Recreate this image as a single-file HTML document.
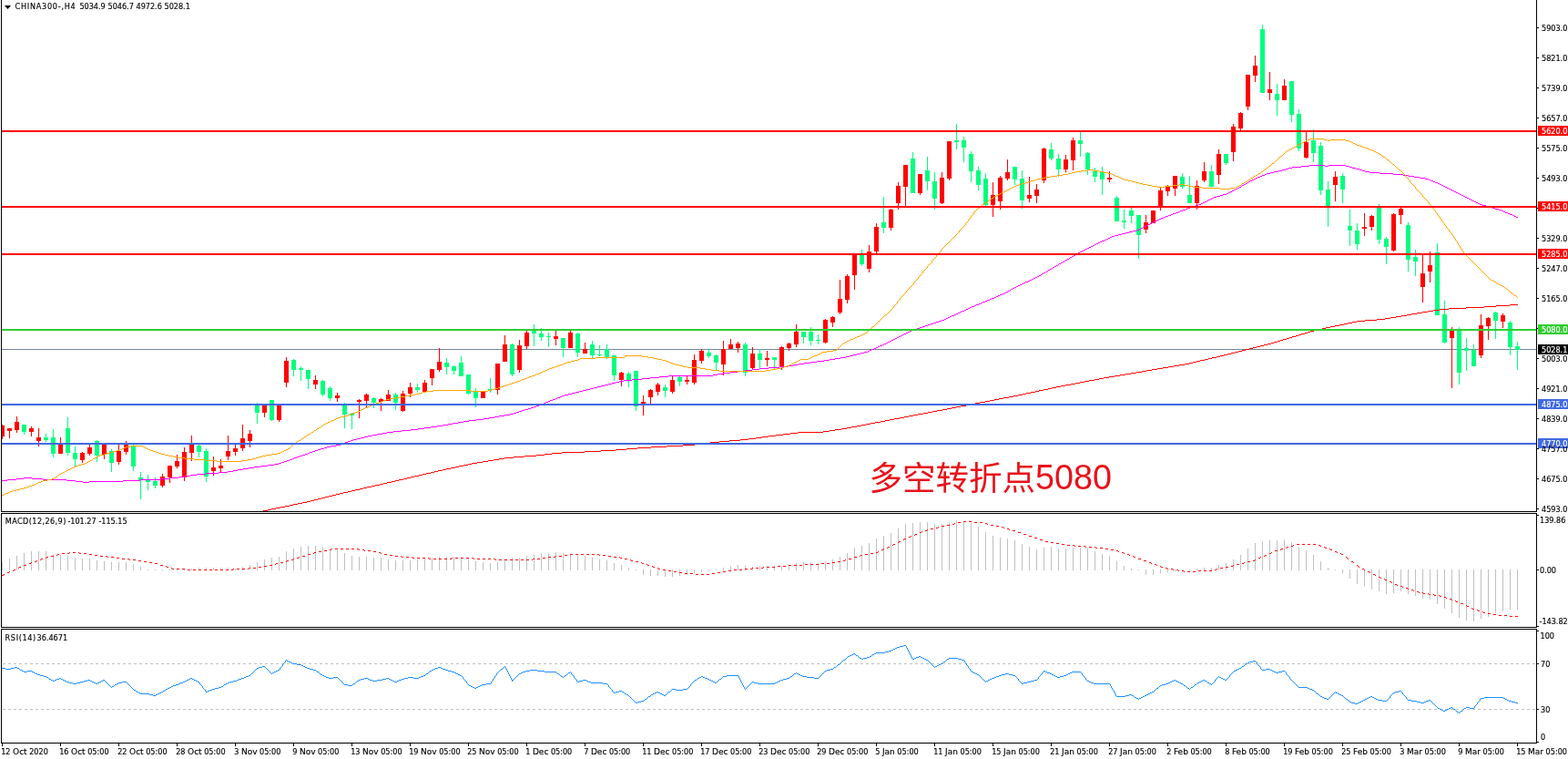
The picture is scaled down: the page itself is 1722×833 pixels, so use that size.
<!DOCTYPE html>
<html><head><meta charset="utf-8"><title>CHINA300 H4</title>
<style>
html,body{margin:0;padding:0;background:#fff;}
body{width:1722px;height:833px;position:relative;overflow:hidden;}
.w{font-family:"DejaVu Sans",sans-serif;}
.t{position:absolute;white-space:pre;font-family:"DejaVu Sans Condensed", "DejaVu Sans", sans-serif;line-height:11px;height:11px;-webkit-text-stroke:0.15px currentColor;}
.cjk{position:absolute;white-space:pre;font-family:"Liberation Sans", "Noto Sans CJK SC", "WenQuanYi Zen Hei", sans-serif;font-size:36.5px;line-height:44px;color:#E8121C;}
.dg{font-family:"Liberation Sans",sans-serif;font-size:39.5px;position:relative;top:-1.5px;display:inline-block;transform:scaleX(0.955);transform-origin:0 50%;}
</style></head><body>
<svg width="1722" height="833" viewBox="0 0 1722 833" style="position:absolute;left:0;top:0"><rect x="0" y="0" width="1722" height="833" fill="#FFFFFF"/><defs><clipPath id="cm"><rect x="2" y="0" width="1685" height="561"/></clipPath><clipPath id="cmacd"><rect x="2" y="564" width="1685" height="124"/></clipPath><clipPath id="crsi"><rect x="2" y="691" width="1685" height="124"/></clipPath></defs><g shape-rendering="crispEdges"><rect x="2" y="383" width="1685" height="1" fill="#778899"/></g><g clip-path="url(#cm)" shape-rendering="crispEdges"><rect x="2" y="466" width="1" height="16" fill="#FF0000"/><rect x="0" y="467" width="5" height="12" fill="#FF0000"/><rect x="10" y="470" width="1" height="11" fill="#FF0000"/><rect x="8" y="470" width="5" height="3" fill="#FF0000"/><rect x="18" y="457" width="1" height="18" fill="#FF0000"/><rect x="16" y="463" width="5" height="9" fill="#FF0000"/><rect x="26" y="466" width="1" height="11" fill="#00FF7F"/><rect x="24" y="466" width="5" height="8" fill="#00FF7F"/><rect x="34" y="468" width="1" height="11" fill="#FF0000"/><rect x="32" y="470" width="5" height="4" fill="#FF0000"/><rect x="42" y="470" width="1" height="20" fill="#FF0000"/><rect x="40" y="480" width="5" height="4" fill="#FF0000"/><rect x="50" y="476" width="1" height="9" fill="#00FF7F"/><rect x="48" y="480" width="5" height="3" fill="#00FF7F"/><rect x="58" y="471" width="1" height="31" fill="#00FF7F"/><rect x="56" y="480" width="5" height="18" fill="#00FF7F"/><rect x="66" y="480" width="1" height="18" fill="#FF0000"/><rect x="64" y="488" width="5" height="10" fill="#FF0000"/><rect x="74" y="458" width="1" height="42" fill="#00FF7F"/><rect x="72" y="470" width="5" height="27" fill="#00FF7F"/><rect x="82" y="490" width="1" height="23" fill="#00FF7F"/><rect x="80" y="497" width="5" height="7" fill="#00FF7F"/><rect x="90" y="496" width="1" height="12" fill="#FF0000"/><rect x="88" y="497" width="5" height="8" fill="#FF0000"/><rect x="98" y="488" width="1" height="12" fill="#FF0000"/><rect x="96" y="491" width="5" height="7" fill="#FF0000"/><rect x="106" y="483" width="1" height="24" fill="#00FF7F"/><rect x="104" y="484" width="5" height="16" fill="#00FF7F"/><rect x="114" y="488" width="1" height="16" fill="#FF0000"/><rect x="112" y="488" width="5" height="11" fill="#FF0000"/><rect x="122" y="493" width="1" height="25" fill="#00FF7F"/><rect x="120" y="495" width="5" height="13" fill="#00FF7F"/><rect x="130" y="488" width="1" height="22" fill="#FF0000"/><rect x="128" y="495" width="5" height="12" fill="#FF0000"/><rect x="138" y="484" width="1" height="15" fill="#FF0000"/><rect x="136" y="488" width="5" height="8" fill="#FF0000"/><rect x="146" y="488" width="1" height="29" fill="#00FF7F"/><rect x="144" y="489" width="5" height="23" fill="#00FF7F"/><rect x="154" y="518" width="1" height="30" fill="#00FF7F"/><rect x="152" y="524" width="5" height="3" fill="#00FF7F"/><rect x="162" y="521" width="1" height="17" fill="#00FF7F"/><rect x="160" y="526" width="5" height="3" fill="#00FF7F"/><rect x="170" y="524" width="1" height="12" fill="#00FF7F"/><rect x="168" y="528" width="5" height="5" fill="#00FF7F"/><rect x="178" y="520" width="1" height="15" fill="#FF0000"/><rect x="176" y="523" width="5" height="10" fill="#FF0000"/><rect x="186" y="511" width="1" height="19" fill="#FF0000"/><rect x="184" y="511" width="5" height="13" fill="#FF0000"/><rect x="194" y="499" width="1" height="15" fill="#FF0000"/><rect x="192" y="506" width="5" height="6" fill="#FF0000"/><rect x="202" y="491" width="1" height="37" fill="#FF0000"/><rect x="200" y="496" width="5" height="28" fill="#FF0000"/><rect x="210" y="478" width="1" height="28" fill="#FF0000"/><rect x="208" y="488" width="5" height="9" fill="#FF0000"/><rect x="218" y="488" width="1" height="14" fill="#00FF7F"/><rect x="216" y="489" width="5" height="7" fill="#00FF7F"/><rect x="226" y="492" width="1" height="37" fill="#00FF7F"/><rect x="224" y="495" width="5" height="28" fill="#00FF7F"/><rect x="234" y="501" width="1" height="21" fill="#FF0000"/><rect x="232" y="513" width="5" height="4" fill="#FF0000"/><rect x="242" y="504" width="1" height="15" fill="#FF0000"/><rect x="240" y="511" width="5" height="3" fill="#FF0000"/><rect x="250" y="478" width="1" height="27" fill="#FF0000"/><rect x="248" y="495" width="5" height="6" fill="#FF0000"/><rect x="258" y="488" width="1" height="12" fill="#FF0000"/><rect x="256" y="492" width="5" height="4" fill="#FF0000"/><rect x="266" y="466" width="1" height="29" fill="#FF0000"/><rect x="264" y="481" width="5" height="11" fill="#FF0000"/><rect x="274" y="472" width="1" height="19" fill="#FF0000"/><rect x="272" y="476" width="5" height="8" fill="#FF0000"/><rect x="282" y="442" width="1" height="23" fill="#00FF7F"/><rect x="280" y="444" width="5" height="9" fill="#00FF7F"/><rect x="290" y="444" width="1" height="14" fill="#FF0000"/><rect x="288" y="444" width="5" height="9" fill="#FF0000"/><rect x="298" y="439" width="1" height="23" fill="#00FF7F"/><rect x="296" y="439" width="5" height="22" fill="#00FF7F"/><rect x="306" y="444" width="1" height="19" fill="#FF0000"/><rect x="304" y="444" width="5" height="17" fill="#FF0000"/><rect x="314" y="392" width="1" height="33" fill="#FF0000"/><rect x="312" y="396" width="5" height="24" fill="#FF0000"/><rect x="322" y="394" width="1" height="19" fill="#00FF7F"/><rect x="320" y="395" width="5" height="11" fill="#00FF7F"/><rect x="330" y="402" width="1" height="16" fill="#00FF7F"/><rect x="328" y="404" width="5" height="2" fill="#00FF7F"/><rect x="338" y="406" width="1" height="21" fill="#00FF7F"/><rect x="336" y="406" width="5" height="10" fill="#00FF7F"/><rect x="346" y="412" width="1" height="15" fill="#FF0000"/><rect x="344" y="417" width="5" height="5" fill="#FF0000"/><rect x="354" y="417" width="1" height="18" fill="#00FF7F"/><rect x="352" y="418" width="5" height="15" fill="#00FF7F"/><rect x="362" y="424" width="1" height="16" fill="#00FF7F"/><rect x="360" y="426" width="5" height="11" fill="#00FF7F"/><rect x="370" y="431" width="1" height="10" fill="#FF0000"/><rect x="368" y="434" width="5" height="3" fill="#FF0000"/><rect x="378" y="442" width="1" height="28" fill="#00FF7F"/><rect x="376" y="443" width="5" height="12" fill="#00FF7F"/><rect x="386" y="453" width="1" height="18" fill="#00FF7F"/><rect x="384" y="454" width="5" height="2" fill="#00FF7F"/><rect x="394" y="438" width="1" height="21" fill="#FF0000"/><rect x="392" y="439" width="5" height="2" fill="#FF0000"/><rect x="402" y="432" width="1" height="15" fill="#FF0000"/><rect x="400" y="433" width="5" height="7" fill="#FF0000"/><rect x="410" y="436" width="1" height="12" fill="#00FF7F"/><rect x="408" y="437" width="5" height="5" fill="#00FF7F"/><rect x="418" y="437" width="1" height="14" fill="#FF0000"/><rect x="416" y="438" width="5" height="3" fill="#FF0000"/><rect x="426" y="428" width="1" height="12" fill="#FF0000"/><rect x="424" y="433" width="5" height="7" fill="#FF0000"/><rect x="434" y="431" width="1" height="19" fill="#00FF7F"/><rect x="432" y="433" width="5" height="9" fill="#00FF7F"/><rect x="442" y="429" width="1" height="23" fill="#FF0000"/><rect x="440" y="432" width="5" height="19" fill="#FF0000"/><rect x="450" y="420" width="1" height="16" fill="#FF0000"/><rect x="448" y="425" width="5" height="7" fill="#FF0000"/><rect x="458" y="421" width="1" height="10" fill="#00FF7F"/><rect x="456" y="425" width="5" height="3" fill="#00FF7F"/><rect x="466" y="417" width="1" height="13" fill="#FF0000"/><rect x="464" y="420" width="5" height="10" fill="#FF0000"/><rect x="474" y="405" width="1" height="18" fill="#FF0000"/><rect x="472" y="405" width="5" height="10" fill="#FF0000"/><rect x="482" y="382" width="1" height="26" fill="#FF0000"/><rect x="480" y="397" width="5" height="9" fill="#FF0000"/><rect x="490" y="393" width="1" height="18" fill="#00FF7F"/><rect x="488" y="398" width="5" height="5" fill="#00FF7F"/><rect x="498" y="401" width="1" height="10" fill="#00FF7F"/><rect x="496" y="402" width="5" height="5" fill="#00FF7F"/><rect x="506" y="391" width="1" height="22" fill="#00FF7F"/><rect x="504" y="398" width="5" height="15" fill="#00FF7F"/><rect x="514" y="411" width="1" height="22" fill="#00FF7F"/><rect x="512" y="411" width="5" height="21" fill="#00FF7F"/><rect x="522" y="426" width="1" height="21" fill="#00FF7F"/><rect x="520" y="430" width="5" height="7" fill="#00FF7F"/><rect x="530" y="429" width="1" height="8" fill="#FF0000"/><rect x="528" y="429" width="5" height="8" fill="#FF0000"/><rect x="538" y="415" width="1" height="16" fill="#00FF7F"/><rect x="536" y="427" width="5" height="1" fill="#00FF7F"/><rect x="546" y="399" width="1" height="34" fill="#FF0000"/><rect x="544" y="399" width="5" height="29" fill="#FF0000"/><rect x="554" y="368" width="1" height="29" fill="#FF0000"/><rect x="552" y="378" width="5" height="19" fill="#FF0000"/><rect x="562" y="377" width="1" height="36" fill="#00FF7F"/><rect x="560" y="378" width="5" height="33" fill="#00FF7F"/><rect x="570" y="373" width="1" height="36" fill="#FF0000"/><rect x="568" y="379" width="5" height="27" fill="#FF0000"/><rect x="578" y="363" width="1" height="20" fill="#FF0000"/><rect x="576" y="365" width="5" height="15" fill="#FF0000"/><rect x="586" y="356" width="1" height="24" fill="#00FF7F"/><rect x="584" y="362" width="5" height="4" fill="#00FF7F"/><rect x="594" y="360" width="1" height="14" fill="#00FF7F"/><rect x="592" y="366" width="5" height="4" fill="#00FF7F"/><rect x="602" y="365" width="1" height="16" fill="#00FF7F"/><rect x="600" y="369" width="5" height="1" fill="#00FF7F"/><rect x="610" y="363" width="1" height="16" fill="#FF0000"/><rect x="608" y="369" width="5" height="3" fill="#FF0000"/><rect x="618" y="371" width="1" height="21" fill="#00FF7F"/><rect x="616" y="371" width="5" height="11" fill="#00FF7F"/><rect x="626" y="363" width="1" height="19" fill="#FF0000"/><rect x="624" y="365" width="5" height="17" fill="#FF0000"/><rect x="634" y="365" width="1" height="27" fill="#00FF7F"/><rect x="632" y="366" width="5" height="21" fill="#00FF7F"/><rect x="642" y="376" width="1" height="12" fill="#FF0000"/><rect x="640" y="383" width="5" height="5" fill="#FF0000"/><rect x="650" y="374" width="1" height="19" fill="#00FF7F"/><rect x="648" y="378" width="5" height="12" fill="#00FF7F"/><rect x="658" y="379" width="1" height="12" fill="#00FF7F"/><rect x="656" y="389" width="5" height="1" fill="#00FF7F"/><rect x="666" y="378" width="1" height="16" fill="#00FF7F"/><rect x="664" y="383" width="5" height="9" fill="#00FF7F"/><rect x="674" y="390" width="1" height="28" fill="#00FF7F"/><rect x="672" y="390" width="5" height="22" fill="#00FF7F"/><rect x="682" y="408" width="1" height="16" fill="#FF0000"/><rect x="680" y="409" width="5" height="8" fill="#FF0000"/><rect x="690" y="408" width="1" height="17" fill="#00FF7F"/><rect x="688" y="410" width="5" height="8" fill="#00FF7F"/><rect x="698" y="407" width="1" height="44" fill="#00FF7F"/><rect x="696" y="407" width="5" height="39" fill="#00FF7F"/><rect x="706" y="434" width="1" height="22" fill="#FF0000"/><rect x="704" y="441" width="5" height="2" fill="#FF0000"/><rect x="714" y="427" width="1" height="16" fill="#FF0000"/><rect x="712" y="428" width="5" height="8" fill="#FF0000"/><rect x="722" y="420" width="1" height="14" fill="#FF0000"/><rect x="720" y="422" width="5" height="8" fill="#FF0000"/><rect x="730" y="422" width="1" height="14" fill="#00FF7F"/><rect x="728" y="425" width="5" height="4" fill="#00FF7F"/><rect x="738" y="413" width="1" height="19" fill="#FF0000"/><rect x="736" y="417" width="5" height="13" fill="#FF0000"/><rect x="746" y="413" width="1" height="11" fill="#00FF7F"/><rect x="744" y="414" width="5" height="5" fill="#00FF7F"/><rect x="754" y="413" width="1" height="9" fill="#FF0000"/><rect x="752" y="417" width="5" height="2" fill="#FF0000"/><rect x="762" y="389" width="1" height="33" fill="#FF0000"/><rect x="760" y="395" width="5" height="25" fill="#FF0000"/><rect x="770" y="383" width="1" height="16" fill="#FF0000"/><rect x="768" y="385" width="5" height="11" fill="#FF0000"/><rect x="778" y="383" width="1" height="10" fill="#00FF7F"/><rect x="776" y="387" width="5" height="4" fill="#00FF7F"/><rect x="786" y="389" width="1" height="18" fill="#00FF7F"/><rect x="784" y="390" width="5" height="8" fill="#00FF7F"/><rect x="794" y="374" width="1" height="38" fill="#FF0000"/><rect x="792" y="383" width="5" height="17" fill="#FF0000"/><rect x="802" y="372" width="1" height="11" fill="#FF0000"/><rect x="800" y="378" width="5" height="5" fill="#FF0000"/><rect x="810" y="375" width="1" height="12" fill="#FF0000"/><rect x="808" y="377" width="5" height="5" fill="#FF0000"/><rect x="818" y="376" width="1" height="37" fill="#00FF7F"/><rect x="816" y="378" width="5" height="31" fill="#00FF7F"/><rect x="826" y="381" width="1" height="25" fill="#FF0000"/><rect x="824" y="388" width="5" height="16" fill="#FF0000"/><rect x="834" y="383" width="1" height="22" fill="#00FF7F"/><rect x="832" y="388" width="5" height="7" fill="#00FF7F"/><rect x="842" y="385" width="1" height="17" fill="#FF0000"/><rect x="840" y="393" width="5" height="2" fill="#FF0000"/><rect x="850" y="392" width="1" height="13" fill="#00FF7F"/><rect x="848" y="392" width="5" height="3" fill="#00FF7F"/><rect x="858" y="380" width="1" height="26" fill="#FF0000"/><rect x="856" y="381" width="5" height="21" fill="#FF0000"/><rect x="866" y="376" width="1" height="9" fill="#FF0000"/><rect x="864" y="377" width="5" height="5" fill="#FF0000"/><rect x="874" y="356" width="1" height="25" fill="#FF0000"/><rect x="872" y="364" width="5" height="14" fill="#FF0000"/><rect x="882" y="364" width="1" height="13" fill="#00FF7F"/><rect x="880" y="364" width="5" height="6" fill="#00FF7F"/><rect x="890" y="359" width="1" height="20" fill="#00FF7F"/><rect x="888" y="364" width="5" height="10" fill="#00FF7F"/><rect x="898" y="367" width="1" height="11" fill="#00FF7F"/><rect x="896" y="373" width="5" height="1" fill="#00FF7F"/><rect x="906" y="350" width="1" height="27" fill="#FF0000"/><rect x="904" y="351" width="5" height="25" fill="#FF0000"/><rect x="914" y="347" width="1" height="12" fill="#FF0000"/><rect x="912" y="348" width="5" height="6" fill="#FF0000"/><rect x="922" y="307" width="1" height="38" fill="#FF0000"/><rect x="920" y="328" width="5" height="15" fill="#FF0000"/><rect x="930" y="301" width="1" height="32" fill="#FF0000"/><rect x="928" y="303" width="5" height="26" fill="#FF0000"/><rect x="938" y="279" width="1" height="39" fill="#FF0000"/><rect x="936" y="279" width="5" height="23" fill="#FF0000"/><rect x="946" y="274" width="1" height="18" fill="#00FF7F"/><rect x="944" y="280" width="5" height="10" fill="#00FF7F"/><rect x="954" y="269" width="1" height="30" fill="#FF0000"/><rect x="952" y="276" width="5" height="19" fill="#FF0000"/><rect x="962" y="245" width="1" height="33" fill="#FF0000"/><rect x="960" y="249" width="5" height="27" fill="#FF0000"/><rect x="970" y="216" width="1" height="40" fill="#00FF7F"/><rect x="968" y="244" width="5" height="6" fill="#00FF7F"/><rect x="978" y="229" width="1" height="24" fill="#FF0000"/><rect x="976" y="230" width="5" height="20" fill="#FF0000"/><rect x="986" y="200" width="1" height="30" fill="#FF0000"/><rect x="984" y="204" width="5" height="19" fill="#FF0000"/><rect x="994" y="181" width="1" height="45" fill="#FF0000"/><rect x="992" y="181" width="5" height="24" fill="#FF0000"/><rect x="1002" y="167" width="1" height="45" fill="#00FF7F"/><rect x="1000" y="174" width="5" height="38" fill="#00FF7F"/><rect x="1010" y="191" width="1" height="23" fill="#FF0000"/><rect x="1008" y="191" width="5" height="21" fill="#FF0000"/><rect x="1018" y="172" width="1" height="37" fill="#00FF7F"/><rect x="1016" y="187" width="5" height="12" fill="#00FF7F"/><rect x="1026" y="189" width="1" height="41" fill="#00FF7F"/><rect x="1024" y="199" width="5" height="19" fill="#00FF7F"/><rect x="1034" y="189" width="1" height="35" fill="#FF0000"/><rect x="1032" y="195" width="5" height="28" fill="#FF0000"/><rect x="1042" y="155" width="1" height="43" fill="#FF0000"/><rect x="1040" y="155" width="5" height="41" fill="#FF0000"/><rect x="1050" y="136" width="1" height="28" fill="#00FF7F"/><rect x="1048" y="154" width="5" height="2" fill="#00FF7F"/><rect x="1058" y="150" width="1" height="28" fill="#00FF7F"/><rect x="1056" y="154" width="5" height="8" fill="#00FF7F"/><rect x="1066" y="166" width="1" height="34" fill="#00FF7F"/><rect x="1064" y="169" width="5" height="19" fill="#00FF7F"/><rect x="1074" y="183" width="1" height="26" fill="#00FF7F"/><rect x="1072" y="187" width="5" height="16" fill="#00FF7F"/><rect x="1082" y="190" width="1" height="36" fill="#00FF7F"/><rect x="1080" y="196" width="5" height="29" fill="#00FF7F"/><rect x="1090" y="200" width="1" height="38" fill="#FF0000"/><rect x="1088" y="214" width="5" height="11" fill="#FF0000"/><rect x="1098" y="193" width="1" height="37" fill="#FF0000"/><rect x="1096" y="195" width="5" height="26" fill="#FF0000"/><rect x="1106" y="175" width="1" height="23" fill="#FF0000"/><rect x="1104" y="189" width="5" height="7" fill="#FF0000"/><rect x="1114" y="183" width="1" height="20" fill="#00FF7F"/><rect x="1112" y="183" width="5" height="14" fill="#00FF7F"/><rect x="1122" y="187" width="1" height="42" fill="#00FF7F"/><rect x="1120" y="196" width="5" height="24" fill="#00FF7F"/><rect x="1130" y="194" width="1" height="28" fill="#FF0000"/><rect x="1128" y="214" width="5" height="4" fill="#FF0000"/><rect x="1138" y="202" width="1" height="21" fill="#FF0000"/><rect x="1136" y="208" width="5" height="7" fill="#FF0000"/><rect x="1146" y="162" width="1" height="39" fill="#FF0000"/><rect x="1144" y="163" width="5" height="35" fill="#FF0000"/><rect x="1154" y="157" width="1" height="19" fill="#00FF7F"/><rect x="1152" y="164" width="5" height="10" fill="#00FF7F"/><rect x="1162" y="169" width="1" height="25" fill="#00FF7F"/><rect x="1160" y="174" width="5" height="12" fill="#00FF7F"/><rect x="1170" y="170" width="1" height="19" fill="#FF0000"/><rect x="1168" y="175" width="5" height="11" fill="#FF0000"/><rect x="1178" y="151" width="1" height="36" fill="#FF0000"/><rect x="1176" y="154" width="5" height="22" fill="#FF0000"/><rect x="1186" y="145" width="1" height="27" fill="#00FF7F"/><rect x="1184" y="154" width="5" height="4" fill="#00FF7F"/><rect x="1194" y="167" width="1" height="25" fill="#00FF7F"/><rect x="1192" y="168" width="5" height="18" fill="#00FF7F"/><rect x="1202" y="184" width="1" height="16" fill="#00FF7F"/><rect x="1200" y="188" width="5" height="6" fill="#00FF7F"/><rect x="1210" y="183" width="1" height="31" fill="#00FF7F"/><rect x="1208" y="189" width="5" height="8" fill="#00FF7F"/><rect x="1218" y="188" width="1" height="12" fill="#FF0000"/><rect x="1216" y="195" width="5" height="2" fill="#FF0000"/><rect x="1226" y="215" width="1" height="28" fill="#00FF7F"/><rect x="1224" y="217" width="5" height="26" fill="#00FF7F"/><rect x="1234" y="230" width="1" height="21" fill="#00FF7F"/><rect x="1232" y="242" width="5" height="2" fill="#00FF7F"/><rect x="1242" y="228" width="1" height="17" fill="#00FF7F"/><rect x="1240" y="231" width="5" height="6" fill="#00FF7F"/><rect x="1250" y="236" width="1" height="48" fill="#00FF7F"/><rect x="1248" y="236" width="5" height="22" fill="#00FF7F"/><rect x="1258" y="236" width="1" height="20" fill="#FF0000"/><rect x="1256" y="244" width="5" height="8" fill="#FF0000"/><rect x="1266" y="231" width="1" height="14" fill="#FF0000"/><rect x="1264" y="231" width="5" height="14" fill="#FF0000"/><rect x="1274" y="205" width="1" height="26" fill="#FF0000"/><rect x="1272" y="209" width="5" height="17" fill="#FF0000"/><rect x="1282" y="203" width="1" height="12" fill="#FF0000"/><rect x="1280" y="205" width="5" height="5" fill="#FF0000"/><rect x="1290" y="193" width="1" height="22" fill="#FF0000"/><rect x="1288" y="193" width="5" height="14" fill="#FF0000"/><rect x="1298" y="190" width="1" height="17" fill="#00FF7F"/><rect x="1296" y="194" width="5" height="11" fill="#00FF7F"/><rect x="1306" y="193" width="1" height="30" fill="#00FF7F"/><rect x="1304" y="214" width="5" height="9" fill="#00FF7F"/><rect x="1314" y="198" width="1" height="32" fill="#FF0000"/><rect x="1312" y="204" width="5" height="19" fill="#FF0000"/><rect x="1322" y="178" width="1" height="22" fill="#FF0000"/><rect x="1320" y="188" width="5" height="10" fill="#FF0000"/><rect x="1330" y="181" width="1" height="24" fill="#00FF7F"/><rect x="1328" y="188" width="5" height="17" fill="#00FF7F"/><rect x="1338" y="164" width="1" height="38" fill="#FF0000"/><rect x="1336" y="169" width="5" height="23" fill="#FF0000"/><rect x="1346" y="169" width="1" height="12" fill="#00FF7F"/><rect x="1344" y="169" width="5" height="10" fill="#00FF7F"/><rect x="1354" y="136" width="1" height="41" fill="#FF0000"/><rect x="1352" y="139" width="5" height="28" fill="#FF0000"/><rect x="1362" y="123" width="1" height="20" fill="#FF0000"/><rect x="1360" y="124" width="5" height="17" fill="#FF0000"/><rect x="1370" y="82" width="1" height="39" fill="#FF0000"/><rect x="1368" y="82" width="5" height="35" fill="#FF0000"/><rect x="1378" y="61" width="1" height="29" fill="#FF0000"/><rect x="1376" y="72" width="5" height="11" fill="#FF0000"/><rect x="1386" y="27" width="1" height="75" fill="#00FF7F"/><rect x="1384" y="32" width="5" height="70" fill="#00FF7F"/><rect x="1394" y="79" width="1" height="31" fill="#FF0000"/><rect x="1392" y="98" width="5" height="4" fill="#FF0000"/><rect x="1402" y="92" width="1" height="35" fill="#00FF7F"/><rect x="1400" y="103" width="5" height="7" fill="#00FF7F"/><rect x="1410" y="87" width="1" height="23" fill="#FF0000"/><rect x="1408" y="94" width="5" height="16" fill="#FF0000"/><rect x="1418" y="89" width="1" height="45" fill="#00FF7F"/><rect x="1416" y="89" width="5" height="37" fill="#00FF7F"/><rect x="1426" y="120" width="1" height="46" fill="#00FF7F"/><rect x="1424" y="125" width="5" height="38" fill="#00FF7F"/><rect x="1434" y="145" width="1" height="29" fill="#FF0000"/><rect x="1432" y="156" width="5" height="17" fill="#FF0000"/><rect x="1442" y="142" width="1" height="36" fill="#00FF7F"/><rect x="1440" y="154" width="5" height="14" fill="#00FF7F"/><rect x="1450" y="156" width="1" height="58" fill="#00FF7F"/><rect x="1448" y="160" width="5" height="49" fill="#00FF7F"/><rect x="1458" y="199" width="1" height="50" fill="#00FF7F"/><rect x="1456" y="208" width="5" height="18" fill="#00FF7F"/><rect x="1466" y="188" width="1" height="33" fill="#FF0000"/><rect x="1464" y="194" width="5" height="9" fill="#FF0000"/><rect x="1474" y="190" width="1" height="33" fill="#00FF7F"/><rect x="1472" y="193" width="5" height="15" fill="#00FF7F"/><rect x="1482" y="230" width="1" height="40" fill="#00FF7F"/><rect x="1480" y="248" width="5" height="5" fill="#00FF7F"/><rect x="1490" y="245" width="1" height="29" fill="#00FF7F"/><rect x="1488" y="253" width="5" height="15" fill="#00FF7F"/><rect x="1498" y="234" width="1" height="25" fill="#FF0000"/><rect x="1496" y="249" width="5" height="2" fill="#FF0000"/><rect x="1506" y="236" width="1" height="17" fill="#FF0000"/><rect x="1504" y="237" width="5" height="12" fill="#FF0000"/><rect x="1514" y="224" width="1" height="44" fill="#00FF7F"/><rect x="1512" y="228" width="5" height="35" fill="#00FF7F"/><rect x="1522" y="260" width="1" height="30" fill="#00FF7F"/><rect x="1520" y="262" width="5" height="9" fill="#00FF7F"/><rect x="1530" y="234" width="1" height="42" fill="#FF0000"/><rect x="1528" y="235" width="5" height="40" fill="#FF0000"/><rect x="1538" y="228" width="1" height="18" fill="#FF0000"/><rect x="1536" y="229" width="5" height="7" fill="#FF0000"/><rect x="1546" y="244" width="1" height="54" fill="#00FF7F"/><rect x="1544" y="247" width="5" height="38" fill="#00FF7F"/><rect x="1554" y="274" width="1" height="29" fill="#00FF7F"/><rect x="1552" y="282" width="5" height="5" fill="#00FF7F"/><rect x="1562" y="280" width="1" height="52" fill="#FF0000"/><rect x="1560" y="300" width="5" height="15" fill="#FF0000"/><rect x="1570" y="276" width="1" height="34" fill="#FF0000"/><rect x="1568" y="291" width="5" height="7" fill="#FF0000"/><rect x="1578" y="267" width="1" height="79" fill="#00FF7F"/><rect x="1576" y="277" width="5" height="69" fill="#00FF7F"/><rect x="1586" y="330" width="1" height="47" fill="#00FF7F"/><rect x="1584" y="345" width="5" height="31" fill="#00FF7F"/><rect x="1594" y="359" width="1" height="67" fill="#FF0000"/><rect x="1592" y="363" width="5" height="8" fill="#FF0000"/><rect x="1602" y="359" width="1" height="63" fill="#00FF7F"/><rect x="1600" y="362" width="5" height="47" fill="#00FF7F"/><rect x="1610" y="371" width="1" height="36" fill="#00FF7F"/><rect x="1608" y="382" width="5" height="3" fill="#00FF7F"/><rect x="1618" y="378" width="1" height="24" fill="#00FF7F"/><rect x="1616" y="384" width="5" height="18" fill="#00FF7F"/><rect x="1626" y="345" width="1" height="48" fill="#FF0000"/><rect x="1624" y="357" width="5" height="33" fill="#FF0000"/><rect x="1634" y="348" width="1" height="25" fill="#FF0000"/><rect x="1632" y="349" width="5" height="9" fill="#FF0000"/><rect x="1642" y="342" width="1" height="30" fill="#00FF7F"/><rect x="1640" y="343" width="5" height="9" fill="#00FF7F"/><rect x="1650" y="344" width="1" height="16" fill="#FF0000"/><rect x="1648" y="346" width="5" height="7" fill="#FF0000"/><rect x="1658" y="352" width="1" height="38" fill="#00FF7F"/><rect x="1656" y="354" width="5" height="27" fill="#00FF7F"/><rect x="1666" y="375" width="1" height="31" fill="#00FF7F"/><rect x="1664" y="380" width="5" height="4" fill="#00FF7F"/></g><g clip-path="url(#cm)" shape-rendering="crispEdges"><path d="M1658 334h9v1h-9zM1643 335h15v1h-15zM1630 336h13v1h-13zM1610 337h20v1h-20zM1591 338h19v1h-19zM1581 339h10v1h-10zM1574 340h7v1h-7zM1568 341h6v1h-6zM1562 342h6v1h-6zM1556 343h6v1h-6zM1550 344h6v1h-6zM1545 345h5v1h-5zM1539 346h6v1h-6zM1533 347h6v1h-6zM1527 348h6v1h-6zM1521 349h6v1h-6zM1512 350h9v1h-9zM1499 351h13v1h-13zM1490 352h9v1h-9zM1485 353h5v1h-5zM1480 354h5v1h-5zM1476 355h4v1h-4zM1471 356h5v1h-5zM1466 357h5v1h-5zM1461 358h5v1h-5zM1456 359h5v1h-5zM1452 360h4v1h-4zM1447 361h5v1h-5zM1443 362h4v1h-4zM1439 363h4v1h-4zM1436 364h3v1h-3zM1433 365h3v1h-3zM1429 366h4v1h-4zM1426 367h3v1h-3zM1423 368h3v1h-3zM1419 369h4v1h-4zM1416 370h3v1h-3zM1413 371h3v1h-3zM1409 372h4v1h-4zM1406 373h3v1h-3zM1403 374h3v1h-3zM1399 375h4v1h-4zM1396 376h3v1h-3zM1392 377h4v1h-4zM1388 378h4v1h-4zM1384 379h4v1h-4zM1380 380h4v1h-4zM1376 381h4v1h-4zM1372 382h4v1h-4zM1368 383h4v1h-4zM1364 384h4v1h-4zM1360 385h4v1h-4zM1356 386h4v1h-4zM1352 387h4v1h-4zM1348 388h4v1h-4zM1344 389h4v1h-4zM1340 390h4v1h-4zM1336 391h4v1h-4zM1331 392h5v1h-5zM1327 393h4v1h-4zM1323 394h4v1h-4zM1318 395h5v1h-5zM1314 396h4v1h-4zM1310 397h4v1h-4zM1306 398h4v1h-4zM1301 399h5v1h-5zM1295 400h6v1h-6zM1289 401h6v1h-6zM1283 402h6v1h-6zM1277 403h6v1h-6zM1271 404h6v1h-6zM1265 405h6v1h-6zM1259 406h6v1h-6zM1254 407h5v1h-5zM1248 408h6v1h-6zM1242 409h6v1h-6zM1236 410h6v1h-6zM1230 411h6v1h-6zM1224 412h6v1h-6zM1218 413h6v1h-6zM1212 414h6v1h-6zM1207 415h5v1h-5zM1202 416h5v1h-5zM1196 417h6v1h-6zM1191 418h5v1h-5zM1186 419h5v1h-5zM1181 420h5v1h-5zM1176 421h5v1h-5zM1170 422h6v1h-6zM1165 423h5v1h-5zM1160 424h5v1h-5zM1155 425h5v1h-5zM1151 426h4v1h-4zM1146 427h5v1h-5zM1141 428h5v1h-5zM1137 429h4v1h-4zM1132 430h5v1h-5zM1127 431h5v1h-5zM1123 432h4v1h-4zM1118 433h5v1h-5zM1113 434h5v1h-5zM1108 435h5v1h-5zM1102 436h6v1h-6zM1097 437h5v1h-5zM1092 438h5v1h-5zM1087 439h5v1h-5zM1082 440h5v1h-5zM1076 441h6v1h-6zM1071 442h5v1h-5zM1066 443h5v1h-5zM1061 444h5v1h-5zM1055 445h6v1h-6zM1050 446h5v1h-5zM1045 447h5v1h-5zM1040 448h5v1h-5zM1035 449h5v1h-5zM1029 450h6v1h-6zM1024 451h5v1h-5zM1019 452h5v1h-5zM1014 453h5v1h-5zM1008 454h6v1h-6zM1003 455h5v1h-5zM998 456h5v1h-5zM993 457h5v1h-5zM988 458h5v1h-5zM982 459h6v1h-6zM977 460h5v1h-5zM972 461h5v1h-5zM967 462h5v1h-5zM961 463h6v1h-6zM956 464h5v1h-5zM951 465h5v1h-5zM946 466h5v1h-5zM941 467h5v1h-5zM935 468h6v1h-6zM930 469h5v1h-5zM924 470h6v1h-6zM917 471h7v1h-7zM911 472h6v1h-6zM904 473h7v1h-7zM876 474h28v1h-28zM868 475h8v1h-8zM860 476h8v1h-8zM852 477h8v1h-8zM844 478h8v1h-8zM837 479h7v1h-7zM830 480h7v1h-7zM822 481h8v1h-8zM813 482h9v1h-9zM801 483h12v1h-12zM790 484h11v1h-11zM780 485h10v1h-10zM771 486h9v1h-9zM763 487h8v1h-8zM750 488h13v1h-13zM732 489h18v1h-18zM715 490h17v1h-17zM700 491h15v1h-15zM688 492h12v1h-12zM676 493h12v1h-12zM660 494h16v1h-16zM642 495h18v1h-18zM617 496h25v1h-25zM606 497h11v1h-11zM598 498h8v1h-8zM589 499h9v1h-9zM576 500h13v1h-13zM564 501h12v1h-12zM554 502h10v1h-10zM548 503h6v1h-6zM542 504h6v1h-6zM536 505h6v1h-6zM530 506h6v1h-6zM524 507h6v1h-6zM518 508h6v1h-6zM514 509h4v1h-4zM509 510h5v1h-5zM504 511h5v1h-5zM500 512h4v1h-4zM495 513h5v1h-5zM490 514h5v1h-5zM486 515h4v1h-4zM481 516h5v1h-5zM477 517h4v1h-4zM473 518h4v1h-4zM468 519h5v1h-5zM464 520h4v1h-4zM460 521h4v1h-4zM455 522h5v1h-5zM451 523h4v1h-4zM447 524h4v1h-4zM443 525h4v1h-4zM438 526h5v1h-5zM434 527h4v1h-4zM430 528h4v1h-4zM425 529h5v1h-5zM421 530h4v1h-4zM417 531h4v1h-4zM412 532h5v1h-5zM408 533h4v1h-4zM403 534h5v1h-5zM399 535h4v1h-4zM395 536h4v1h-4zM390 537h5v1h-5zM386 538h4v1h-4zM382 539h4v1h-4zM377 540h5v1h-5zM373 541h4v1h-4zM369 542h4v1h-4zM365 543h4v1h-4zM361 544h4v1h-4zM357 545h4v1h-4zM353 546h4v1h-4zM349 547h4v1h-4zM345 548h4v1h-4zM341 549h4v1h-4zM337 550h4v1h-4zM332 551h5v1h-5zM327 552h5v1h-5zM322 553h5v1h-5zM318 554h4v1h-4zM313 555h5v1h-5zM308 556h5v1h-5zM303 557h5v1h-5zM298 558h5v1h-5zM294 559h4v1h-4zM289 560h5v1h-5zM286 561h3v1h-3z" fill="#FF0000"/><path d="M1438 181h17v1h-17zM1459 181h19v1h-19zM1429 182h9v1h-9zM1455 182h4v1h-4zM1478 182h4v1h-4zM1419 183h10v1h-10zM1482 183h3v1h-3zM1415 184h4v1h-4zM1485 184h4v1h-4zM1412 185h3v1h-3zM1489 185h4v1h-4zM1408 186h4v1h-4zM1493 186h3v1h-3zM1404 187h4v1h-4zM1496 187h3v1h-3zM1399 188h5v1h-5zM1499 188h5v1h-5zM1395 189h4v1h-4zM1504 189h11v1h-11zM1391 190h4v1h-4zM1515 190h15v1h-15zM1389 191h2v1h-2zM1530 191h11v1h-11zM1386 192h3v1h-3zM1541 192h6v1h-6zM1384 193h2v1h-2zM1547 193h6v1h-6zM1381 194h3v1h-3zM1553 194h6v1h-6zM1379 195h2v1h-2zM1559 195h6v1h-6zM1377 196h2v1h-2zM1565 196h4v1h-4zM1375 197h2v1h-2zM1569 197h2v1h-2zM1373 198h2v1h-2zM1571 198h3v1h-3zM1371 199h2v1h-2zM1574 199h2v1h-2zM1370 200h1v1h-1zM1576 200h3v1h-3zM1368 201h2v1h-2zM1579 201h2v1h-2zM1366 202h2v1h-2zM1581 202h2v1h-2zM1364 203h2v1h-2zM1583 203h2v1h-2zM1363 204h1v1h-1zM1585 204h2v1h-2zM1361 205h2v1h-2zM1587 205h2v1h-2zM1359 206h2v1h-2zM1589 206h2v1h-2zM1357 207h2v1h-2zM1591 207h2v1h-2zM1355 208h2v1h-2zM1593 208h2v1h-2zM1353 209h2v1h-2zM1595 209h2v1h-2zM1351 210h2v1h-2zM1597 210h2v1h-2zM1349 211h2v1h-2zM1599 211h2v1h-2zM1347 212h2v1h-2zM1601 212h2v1h-2zM1343 213h4v1h-4zM1603 213h2v1h-2zM1340 214h3v1h-3zM1605 214h2v1h-2zM1336 215h4v1h-4zM1607 215h2v1h-2zM1333 216h3v1h-3zM1609 216h2v1h-2zM1331 217h2v1h-2zM1611 217h2v1h-2zM1329 218h2v1h-2zM1613 218h2v1h-2zM1327 219h2v1h-2zM1615 219h2v1h-2zM1325 220h2v1h-2zM1617 220h2v1h-2zM1323 221h2v1h-2zM1619 221h2v1h-2zM1321 222h2v1h-2zM1621 222h2v1h-2zM1319 223h2v1h-2zM1623 223h2v1h-2zM1316 224h3v1h-3zM1625 224h3v1h-3zM1313 225h3v1h-3zM1628 225h4v1h-4zM1310 226h3v1h-3zM1632 226h3v1h-3zM1307 227h3v1h-3zM1635 227h4v1h-4zM1304 228h3v1h-3zM1639 228h3v1h-3zM1302 229h2v1h-2zM1642 229h4v1h-4zM1299 230h3v1h-3zM1646 230h3v1h-3zM1296 231h3v1h-3zM1649 231h2v1h-2zM1294 232h2v1h-2zM1651 232h2v1h-2zM1291 233h3v1h-3zM1653 233h3v1h-3zM1288 234h3v1h-3zM1656 234h2v1h-2zM1286 235h2v1h-2zM1658 235h3v1h-3zM1283 236h3v1h-3zM1661 236h2v1h-2zM1280 237h3v1h-3zM1663 237h2v1h-2zM1278 238h2v1h-2zM1665 238h2v1h-2zM1275 239h3v1h-3zM1273 240h2v1h-2zM1271 241h2v1h-2zM1269 242h2v1h-2zM1267 243h2v1h-2zM1265 244h2v1h-2zM1263 245h2v1h-2zM1261 246h2v1h-2zM1259 247h2v1h-2zM1257 248h2v1h-2zM1255 249h2v1h-2zM1253 250h2v1h-2zM1251 251h2v1h-2zM1248 252h3v1h-3zM1244 253h4v1h-4zM1240 254h4v1h-4zM1236 255h4v1h-4zM1232 256h4v1h-4zM1228 257h4v1h-4zM1224 258h4v1h-4zM1221 259h3v1h-3zM1219 260h2v1h-2zM1217 261h2v1h-2zM1215 262h2v1h-2zM1213 263h2v1h-2zM1210 264h3v1h-3zM1208 265h2v1h-2zM1206 266h2v1h-2zM1204 267h2v1h-2zM1202 268h2v1h-2zM1200 269h2v1h-2zM1198 270h2v1h-2zM1196 271h2v1h-2zM1194 272h2v1h-2zM1192 273h2v1h-2zM1190 274h2v1h-2zM1188 275h2v1h-2zM1186 276h2v1h-2zM1184 277h2v1h-2zM1182 278h2v1h-2zM1181 279h1v1h-1zM1179 280h2v1h-2zM1177 281h2v1h-2zM1175 282h2v1h-2zM1174 283h1v1h-1zM1172 284h2v1h-2zM1170 285h2v1h-2zM1169 286h1v1h-1zM1167 287h2v1h-2zM1165 288h2v1h-2zM1163 289h2v1h-2zM1162 290h1v1h-1zM1160 291h2v1h-2zM1158 292h2v1h-2zM1156 293h2v1h-2zM1155 294h1v1h-1zM1153 295h2v1h-2zM1151 296h2v1h-2zM1150 297h1v1h-1zM1148 298h2v1h-2zM1146 299h2v1h-2zM1144 300h2v1h-2zM1143 301h1v1h-1zM1141 302h2v1h-2zM1139 303h2v1h-2zM1137 304h2v1h-2zM1135 305h2v1h-2zM1133 306h2v1h-2zM1131 307h2v1h-2zM1129 308h2v1h-2zM1126 309h3v1h-3zM1124 310h2v1h-2zM1122 311h2v1h-2zM1120 312h2v1h-2zM1118 313h2v1h-2zM1116 314h2v1h-2zM1114 315h2v1h-2zM1112 316h2v1h-2zM1110 317h2v1h-2zM1109 318h1v1h-1zM1107 319h2v1h-2zM1105 320h2v1h-2zM1103 321h2v1h-2zM1101 322h2v1h-2zM1098 323h3v1h-3zM1096 324h2v1h-2zM1094 325h2v1h-2zM1092 326h2v1h-2zM1089 327h3v1h-3zM1087 328h2v1h-2zM1084 329h3v1h-3zM1082 330h2v1h-2zM1079 331h3v1h-3zM1077 332h2v1h-2zM1075 333h2v1h-2zM1072 334h3v1h-3zM1070 335h2v1h-2zM1067 336h3v1h-3zM1065 337h2v1h-2zM1063 338h2v1h-2zM1061 339h2v1h-2zM1059 340h2v1h-2zM1056 341h3v1h-3zM1054 342h2v1h-2zM1052 343h2v1h-2zM1050 344h2v1h-2zM1048 345h2v1h-2zM1045 346h3v1h-3zM1043 347h2v1h-2zM1041 348h2v1h-2zM1039 349h2v1h-2zM1037 350h2v1h-2zM1034 351h3v1h-3zM1031 352h3v1h-3zM1028 353h3v1h-3zM1025 354h3v1h-3zM1022 355h3v1h-3zM1019 356h3v1h-3zM1016 357h3v1h-3zM1013 358h3v1h-3zM1010 359h3v1h-3zM1007 360h3v1h-3zM1004 361h3v1h-3zM1001 362h3v1h-3zM999 363h2v1h-2zM997 364h2v1h-2zM995 365h2v1h-2zM993 366h2v1h-2zM991 367h2v1h-2zM989 368h2v1h-2zM987 369h2v1h-2zM985 370h2v1h-2zM983 371h2v1h-2zM981 372h2v1h-2zM979 373h2v1h-2zM977 374h2v1h-2zM975 375h2v1h-2zM973 376h2v1h-2zM971 377h2v1h-2zM969 378h2v1h-2zM966 379h3v1h-3zM964 380h2v1h-2zM962 381h2v1h-2zM960 382h2v1h-2zM957 383h3v1h-3zM955 384h2v1h-2zM953 385h2v1h-2zM949 386h4v1h-4zM945 387h4v1h-4zM941 388h4v1h-4zM937 389h4v1h-4zM933 390h4v1h-4zM929 391h4v1h-4zM923 392h6v1h-6zM917 393h6v1h-6zM911 394h6v1h-6zM905 395h6v1h-6zM897 396h8v1h-8zM890 397h7v1h-7zM883 398h7v1h-7zM877 399h6v1h-6zM871 400h6v1h-6zM865 401h6v1h-6zM856 402h9v1h-9zM844 403h12v1h-12zM834 404h10v1h-10zM826 405h8v1h-8zM818 406h8v1h-8zM810 407h8v1h-8zM802 408h8v1h-8zM794 409h8v1h-8zM788 410h6v1h-6zM783 411h5v1h-5zM734 412h49v1h-49zM724 413h10v1h-10zM714 414h10v1h-10zM705 415h9v1h-9zM694 416h11v1h-11zM685 417h9v1h-9zM680 418h5v1h-5zM676 419h4v1h-4zM672 420h4v1h-4zM668 421h4v1h-4zM664 422h4v1h-4zM660 423h4v1h-4zM656 424h4v1h-4zM652 425h4v1h-4zM648 426h4v1h-4zM644 427h4v1h-4zM640 428h4v1h-4zM636 429h4v1h-4zM632 430h4v1h-4zM628 431h4v1h-4zM624 432h4v1h-4zM620 433h4v1h-4zM617 434h3v1h-3zM615 435h2v1h-2zM612 436h3v1h-3zM610 437h2v1h-2zM607 438h3v1h-3zM604 439h3v1h-3zM602 440h2v1h-2zM599 441h3v1h-3zM597 442h2v1h-2zM594 443h3v1h-3zM592 444h2v1h-2zM589 445h3v1h-3zM586 446h3v1h-3zM583 447h3v1h-3zM580 448h3v1h-3zM576 449h4v1h-4zM573 450h3v1h-3zM570 451h3v1h-3zM567 452h3v1h-3zM564 453h3v1h-3zM560 454h4v1h-4zM554 455h6v1h-6zM548 456h6v1h-6zM543 457h5v1h-5zM537 458h6v1h-6zM531 459h6v1h-6zM523 460h8v1h-8zM515 461h8v1h-8zM509 462h6v1h-6zM503 463h6v1h-6zM497 464h6v1h-6zM492 465h5v1h-5zM486 466h6v1h-6zM480 467h6v1h-6zM473 468h7v1h-7zM466 469h7v1h-7zM459 470h7v1h-7zM451 471h8v1h-8zM441 472h10v1h-10zM432 473h9v1h-9zM425 474h7v1h-7zM420 475h5v1h-5zM414 476h6v1h-6zM409 477h5v1h-5zM404 478h5v1h-5zM400 479h4v1h-4zM396 480h4v1h-4zM392 481h4v1h-4zM388 482h4v1h-4zM385 483h3v1h-3zM382 484h3v1h-3zM379 485h3v1h-3zM377 486h2v1h-2zM374 487h3v1h-3zM369 488h5v1h-5zM363 489h6v1h-6zM359 490h4v1h-4zM356 491h3v1h-3zM352 492h4v1h-4zM349 493h3v1h-3zM346 494h3v1h-3zM343 495h3v1h-3zM340 496h3v1h-3zM338 497h2v1h-2zM335 498h3v1h-3zM332 499h3v1h-3zM329 500h3v1h-3zM326 501h3v1h-3zM323 502h3v1h-3zM321 503h2v1h-2zM318 504h3v1h-3zM315 505h3v1h-3zM312 506h3v1h-3zM309 507h3v1h-3zM306 508h3v1h-3zM301 509h5v1h-5zM294 510h7v1h-7zM286 511h8v1h-8zM279 512h7v1h-7zM273 513h6v1h-6zM267 514h6v1h-6zM261 515h6v1h-6zM256 516h5v1h-5zM250 517h6v1h-6zM240 518h10v1h-10zM226 519h14v1h-14zM216 520h10v1h-10zM209 521h7v1h-7zM203 522h6v1h-6zM196 523h7v1h-7zM26 524h9v1h-9zM187 524h9v1h-9zM18 525h8v1h-8zM35 525h12v1h-12zM177 525h10v1h-10zM8 526h10v1h-10zM47 526h26v1h-26zM154 526h23v1h-23zM2 527h6v1h-6zM73 527h10v1h-10zM135 527h19v1h-19zM83 528h8v1h-8zM98 528h37v1h-37zM91 529h7v1h-7z" fill="#FF00FF"/><path d="M1439 152h15v1h-15zM1436 153h3v1h-3zM1454 153h4v1h-4zM1461 153h17v1h-17zM1434 154h2v1h-2zM1458 154h3v1h-3zM1478 154h4v1h-4zM1432 155h2v1h-2zM1482 155h2v1h-2zM1430 156h2v1h-2zM1484 156h2v1h-2zM1428 157h2v1h-2zM1486 157h2v1h-2zM1426 158h2v1h-2zM1488 158h2v1h-2zM1424 159h2v1h-2zM1490 159h3v1h-3zM1423 160h1v1h-1zM1493 160h3v1h-3zM1421 161h2v1h-2zM1496 161h3v1h-3zM1419 162h2v1h-2zM1499 162h3v1h-3zM1417 163h2v1h-2zM1502 163h2v1h-2zM1415 164h2v1h-2zM1504 164h3v1h-3zM1413 165h2v1h-2zM1507 165h2v1h-2zM1412 166h1v1h-1zM1509 166h2v1h-2zM1411 167h1v1h-1zM1511 167h2v1h-2zM1410 168h1v1h-1zM1513 168h2v1h-2zM1409 169h1v1h-1zM1515 169h2v1h-2zM1408 170h1v1h-1zM1517 170h1v1h-1zM1406 171h2v1h-2zM1518 171h1v1h-1zM1405 172h1v1h-1zM1519 172h2v1h-2zM1404 173h1v1h-1zM1521 173h1v1h-1zM1403 174h1v1h-1zM1522 174h1v1h-1zM1402 175h1v1h-1zM1523 175h2v1h-2zM1401 176h1v1h-1zM1525 176h1v1h-1zM1400 177h1v1h-1zM1526 177h1v1h-1zM1399 178h1v1h-1zM1527 178h1v1h-1zM1397 179h2v1h-2zM1528 179h1v1h-1zM1396 180h1v1h-1zM1529 180h2v1h-2zM1395 181h1v1h-1zM1531 181h1v1h-1zM1393 182h2v1h-2zM1532 182h1v1h-1zM1392 183h1v1h-1zM1533 183h1v1h-1zM1391 184h1v1h-1zM1534 184h1v1h-1zM1389 185h2v1h-2zM1535 185h1v1h-1zM1195 186h6v1h-6zM1388 186h1v1h-1zM1536 186h2v1h-2zM1187 187h8v1h-8zM1201 187h6v1h-6zM1387 187h1v1h-1zM1538 187h1v1h-1zM1181 188h6v1h-6zM1207 188h5v1h-5zM1385 188h2v1h-2zM1539 188h1v1h-1zM1177 189h4v1h-4zM1212 189h5v1h-5zM1384 189h1v1h-1zM1540 189h1v1h-1zM1173 190h4v1h-4zM1217 190h4v1h-4zM1382 190h2v1h-2zM1541 190h1v1h-1zM1167 191h6v1h-6zM1221 191h2v1h-2zM1381 191h1v1h-1zM1542 191h1v1h-1zM1161 192h6v1h-6zM1223 192h2v1h-2zM1379 192h2v1h-2zM1543 192h1v1h-1zM1154 193h7v1h-7zM1225 193h3v1h-3zM1377 193h2v1h-2zM1543 193h1v1h-1zM1148 194h6v1h-6zM1228 194h2v1h-2zM1376 194h1v1h-1zM1544 194h1v1h-1zM1143 195h5v1h-5zM1230 195h2v1h-2zM1374 195h2v1h-2zM1545 195h1v1h-1zM1139 196h4v1h-4zM1232 196h3v1h-3zM1373 196h1v1h-1zM1546 196h1v1h-1zM1136 197h3v1h-3zM1235 197h4v1h-4zM1371 197h2v1h-2zM1547 197h1v1h-1zM1132 198h4v1h-4zM1239 198h4v1h-4zM1370 198h1v1h-1zM1548 198h1v1h-1zM1129 199h3v1h-3zM1243 199h4v1h-4zM1368 199h2v1h-2zM1548 199h1v1h-1zM1126 200h3v1h-3zM1247 200h4v1h-4zM1366 200h2v1h-2zM1549 200h1v1h-1zM1122 201h4v1h-4zM1251 201h4v1h-4zM1364 201h2v1h-2zM1550 201h1v1h-1zM1119 202h3v1h-3zM1255 202h5v1h-5zM1295 202h6v1h-6zM1363 202h1v1h-1zM1551 202h1v1h-1zM1116 203h3v1h-3zM1260 203h5v1h-5zM1288 203h7v1h-7zM1301 203h4v1h-4zM1361 203h2v1h-2zM1552 203h1v1h-1zM1114 204h2v1h-2zM1265 204h6v1h-6zM1279 204h9v1h-9zM1305 204h5v1h-5zM1359 204h2v1h-2zM1553 204h1v1h-1zM1112 205h2v1h-2zM1271 205h8v1h-8zM1310 205h10v1h-10zM1357 205h2v1h-2zM1554 205h1v1h-1zM1110 206h2v1h-2zM1320 206h20v1h-20zM1351 206h6v1h-6zM1554 206h1v1h-1zM1108 207h2v1h-2zM1340 207h11v1h-11zM1555 207h1v1h-1zM1106 208h2v1h-2zM1556 208h1v1h-1zM1104 209h2v1h-2zM1557 209h1v1h-1zM1102 210h2v1h-2zM1558 210h1v1h-1zM1100 211h2v1h-2zM1559 211h1v1h-1zM1098 212h2v1h-2zM1560 212h1v1h-1zM1096 213h2v1h-2zM1561 213h1v1h-1zM1094 214h2v1h-2zM1562 214h1v1h-1zM1092 215h2v1h-2zM1562 215h1v1h-1zM1091 216h1v1h-1zM1563 216h1v1h-1zM1089 217h2v1h-2zM1564 217h1v1h-1zM1088 218h1v1h-1zM1565 218h1v1h-1zM1086 219h2v1h-2zM1566 219h1v1h-1zM1085 220h1v1h-1zM1567 220h1v1h-1zM1084 221h1v1h-1zM1568 221h1v1h-1zM1082 222h2v1h-2zM1569 222h1v1h-1zM1081 223h1v1h-1zM1569 223h1v1h-1zM1079 224h2v1h-2zM1570 224h1v1h-1zM1078 225h1v1h-1zM1571 225h1v1h-1zM1077 226h1v1h-1zM1572 226h1v1h-1zM1076 227h1v1h-1zM1573 227h1v1h-1zM1074 228h2v1h-2zM1573 228h1v1h-1zM1073 229h1v1h-1zM1574 229h1v1h-1zM1072 230h1v1h-1zM1575 230h1v1h-1zM1071 231h1v1h-1zM1576 231h1v1h-1zM1070 232h1v1h-1zM1576 232h1v1h-1zM1069 233h1v1h-1zM1577 233h1v1h-1zM1069 234h1v1h-1zM1578 234h1v1h-1zM1068 235h1v1h-1zM1578 235h1v1h-1zM1067 236h1v1h-1zM1579 236h1v1h-1zM1066 237h1v1h-1zM1580 237h1v1h-1zM1066 238h1v1h-1zM1581 238h1v1h-1zM1065 239h1v1h-1zM1581 239h1v1h-1zM1064 240h1v1h-1zM1582 240h1v1h-1zM1063 241h1v1h-1zM1583 241h1v1h-1zM1063 242h1v1h-1zM1583 242h1v1h-1zM1062 243h1v1h-1zM1584 243h1v1h-1zM1061 244h1v1h-1zM1585 244h1v1h-1zM1060 245h1v1h-1zM1586 245h1v1h-1zM1060 246h1v1h-1zM1586 246h1v1h-1zM1059 247h1v1h-1zM1587 247h1v1h-1zM1058 248h1v1h-1zM1588 248h1v1h-1zM1057 249h1v1h-1zM1588 249h1v1h-1zM1056 250h1v1h-1zM1589 250h1v1h-1zM1055 251h1v1h-1zM1590 251h1v1h-1zM1054 252h1v1h-1zM1591 252h1v1h-1zM1053 253h1v1h-1zM1591 253h1v1h-1zM1053 254h1v1h-1zM1592 254h1v1h-1zM1052 255h1v1h-1zM1593 255h1v1h-1zM1051 256h1v1h-1zM1594 256h1v1h-1zM1050 257h1v1h-1zM1594 257h1v1h-1zM1049 258h1v1h-1zM1595 258h1v1h-1zM1048 259h1v1h-1zM1596 259h1v1h-1zM1047 260h1v1h-1zM1596 260h1v1h-1zM1046 261h1v1h-1zM1597 261h1v1h-1zM1045 262h1v1h-1zM1598 262h1v1h-1zM1044 263h1v1h-1zM1598 263h1v1h-1zM1043 264h1v1h-1zM1599 264h1v1h-1zM1042 265h1v1h-1zM1600 265h1v1h-1zM1041 266h1v1h-1zM1600 266h1v1h-1zM1040 267h1v1h-1zM1601 267h1v1h-1zM1039 268h1v1h-1zM1601 268h1v1h-1zM1038 269h1v1h-1zM1602 269h1v1h-1zM1037 270h1v1h-1zM1603 270h1v1h-1zM1036 271h1v1h-1zM1603 271h1v1h-1zM1035 272h1v1h-1zM1604 272h1v1h-1zM1034 273h1v1h-1zM1605 273h1v1h-1zM1033 274h1v1h-1zM1605 274h1v1h-1zM1033 275h1v1h-1zM1606 275h1v1h-1zM1032 276h1v1h-1zM1607 276h1v1h-1zM1031 277h1v1h-1zM1607 277h1v1h-1zM1030 278h1v1h-1zM1608 278h1v1h-1zM1029 279h1v1h-1zM1609 279h1v1h-1zM1028 280h1v1h-1zM1610 280h1v1h-1zM1028 281h1v1h-1zM1611 281h1v1h-1zM1027 282h1v1h-1zM1612 282h1v1h-1zM1026 283h1v1h-1zM1613 283h1v1h-1zM1025 284h1v1h-1zM1614 284h1v1h-1zM1024 285h1v1h-1zM1615 285h1v1h-1zM1023 286h1v1h-1zM1616 286h1v1h-1zM1023 287h1v1h-1zM1617 287h1v1h-1zM1022 288h1v1h-1zM1618 288h1v1h-1zM1021 289h1v1h-1zM1619 289h1v1h-1zM1020 290h1v1h-1zM1620 290h1v1h-1zM1019 291h1v1h-1zM1621 291h1v1h-1zM1018 292h1v1h-1zM1622 292h1v1h-1zM1018 293h1v1h-1zM1623 293h1v1h-1zM1017 294h1v1h-1zM1624 294h1v1h-1zM1016 295h1v1h-1zM1625 295h1v1h-1zM1015 296h1v1h-1zM1626 296h1v1h-1zM1014 297h1v1h-1zM1627 297h1v1h-1zM1013 298h1v1h-1zM1628 298h1v1h-1zM1013 299h1v1h-1zM1629 299h1v1h-1zM1012 300h1v1h-1zM1630 300h1v1h-1zM1011 301h1v1h-1zM1631 301h1v1h-1zM1010 302h1v1h-1zM1632 302h1v1h-1zM1009 303h1v1h-1zM1633 303h1v1h-1zM1008 304h1v1h-1zM1634 304h1v1h-1zM1008 305h1v1h-1zM1635 305h1v1h-1zM1007 306h1v1h-1zM1636 306h1v1h-1zM1006 307h1v1h-1zM1637 307h2v1h-2zM1005 308h1v1h-1zM1639 308h2v1h-2zM1004 309h1v1h-1zM1641 309h2v1h-2zM1003 310h1v1h-1zM1643 310h1v1h-1zM1003 311h1v1h-1zM1644 311h2v1h-2zM1002 312h1v1h-1zM1646 312h2v1h-2zM1001 313h1v1h-1zM1648 313h2v1h-2zM1000 314h1v1h-1zM1650 314h2v1h-2zM999 315h1v1h-1zM1652 315h1v1h-1zM998 316h1v1h-1zM1653 316h1v1h-1zM997 317h1v1h-1zM1654 317h2v1h-2zM996 318h1v1h-1zM1656 318h1v1h-1zM995 319h1v1h-1zM1657 319h1v1h-1zM995 320h1v1h-1zM1658 320h1v1h-1zM994 321h1v1h-1zM1659 321h2v1h-2zM993 322h1v1h-1zM1661 322h1v1h-1zM992 323h1v1h-1zM1662 323h1v1h-1zM991 324h1v1h-1zM1663 324h2v1h-2zM990 325h1v1h-1zM1665 325h1v1h-1zM989 326h1v1h-1zM1666 326h1v1h-1zM988 327h1v1h-1zM988 328h1v1h-1zM987 329h1v1h-1zM986 330h1v1h-1zM985 331h1v1h-1zM985 332h1v1h-1zM984 333h1v1h-1zM983 334h1v1h-1zM982 335h1v1h-1zM981 336h1v1h-1zM981 337h1v1h-1zM980 338h1v1h-1zM979 339h1v1h-1zM978 340h1v1h-1zM977 341h1v1h-1zM976 342h1v1h-1zM975 343h1v1h-1zM974 344h1v1h-1zM972 345h2v1h-2zM971 346h1v1h-1zM970 347h1v1h-1zM969 348h1v1h-1zM968 349h1v1h-1zM967 350h1v1h-1zM966 351h1v1h-1zM965 352h1v1h-1zM964 353h1v1h-1zM963 354h1v1h-1zM962 355h1v1h-1zM961 356h1v1h-1zM960 357h1v1h-1zM958 358h2v1h-2zM957 359h1v1h-1zM956 360h1v1h-1zM955 361h1v1h-1zM954 362h1v1h-1zM953 363h1v1h-1zM952 364h1v1h-1zM950 365h2v1h-2zM948 366h2v1h-2zM946 367h2v1h-2zM944 368h2v1h-2zM941 369h3v1h-3zM939 370h2v1h-2zM937 371h2v1h-2zM934 372h3v1h-3zM932 373h2v1h-2zM930 374h2v1h-2zM928 375h2v1h-2zM926 376h2v1h-2zM925 377h1v1h-1zM924 378h1v1h-1zM923 379h1v1h-1zM922 380h1v1h-1zM921 381h1v1h-1zM920 382h1v1h-1zM919 383h1v1h-1zM915 384h4v1h-4zM908 385h7v1h-7zM903 386h5v1h-5zM901 387h2v1h-2zM899 388h2v1h-2zM897 389h2v1h-2zM686 390h19v1h-19zM894 390h3v1h-3zM686 391h1v1h-1zM705 391h7v1h-7zM892 391h2v1h-2zM654 392h32v1h-32zM712 392h6v1h-6zM890 392h2v1h-2zM637 393h17v1h-17zM718 393h4v1h-4zM888 393h2v1h-2zM635 394h2v1h-2zM722 394h5v1h-5zM879 394h9v1h-9zM631 395h4v1h-4zM727 395h4v1h-4zM877 395h2v1h-2zM627 396h4v1h-4zM731 396h3v1h-3zM875 396h2v1h-2zM623 397h4v1h-4zM734 397h2v1h-2zM873 397h2v1h-2zM620 398h3v1h-3zM736 398h3v1h-3zM871 398h2v1h-2zM618 399h2v1h-2zM739 399h3v1h-3zM869 399h2v1h-2zM615 400h3v1h-3zM742 400h4v1h-4zM867 400h2v1h-2zM612 401h3v1h-3zM746 401h4v1h-4zM864 401h3v1h-3zM609 402h3v1h-3zM750 402h5v1h-5zM861 402h3v1h-3zM606 403h3v1h-3zM755 403h14v1h-14zM858 403h3v1h-3zM603 404h3v1h-3zM769 404h6v1h-6zM853 404h5v1h-5zM601 405h2v1h-2zM775 405h6v1h-6zM847 405h6v1h-6zM599 406h2v1h-2zM781 406h9v1h-9zM841 406h6v1h-6zM596 407h3v1h-3zM790 407h51v1h-51zM594 408h2v1h-2zM592 409h2v1h-2zM589 410h3v1h-3zM587 411h2v1h-2zM584 412h3v1h-3zM581 413h3v1h-3zM579 414h2v1h-2zM576 415h3v1h-3zM573 416h3v1h-3zM571 417h2v1h-2zM568 418h3v1h-3zM565 419h3v1h-3zM562 420h3v1h-3zM559 421h3v1h-3zM556 422h3v1h-3zM553 423h3v1h-3zM550 424h3v1h-3zM547 425h3v1h-3zM543 426h4v1h-4zM540 427h3v1h-3zM476 428h41v1h-41zM536 428h4v1h-4zM468 429h8v1h-8zM517 429h19v1h-19zM464 430h4v1h-4zM460 431h4v1h-4zM456 432h4v1h-4zM450 433h6v1h-6zM445 434h5v1h-5zM439 435h6v1h-6zM434 436h5v1h-5zM428 437h6v1h-6zM424 438h4v1h-4zM421 439h3v1h-3zM419 440h2v1h-2zM416 441h3v1h-3zM413 442h3v1h-3zM411 443h2v1h-2zM408 444h3v1h-3zM406 445h2v1h-2zM404 446h2v1h-2zM401 447h3v1h-3zM399 448h2v1h-2zM397 449h2v1h-2zM395 450h2v1h-2zM393 451h2v1h-2zM390 452h3v1h-3zM387 453h3v1h-3zM385 454h2v1h-2zM382 455h3v1h-3zM378 456h4v1h-4zM374 457h4v1h-4zM371 458h3v1h-3zM369 459h2v1h-2zM367 460h2v1h-2zM364 461h3v1h-3zM362 462h2v1h-2zM360 463h2v1h-2zM358 464h2v1h-2zM356 465h2v1h-2zM355 466h1v1h-1zM353 467h2v1h-2zM352 468h1v1h-1zM350 469h2v1h-2zM348 470h2v1h-2zM347 471h1v1h-1zM345 472h2v1h-2zM344 473h1v1h-1zM342 474h2v1h-2zM341 475h1v1h-1zM339 476h2v1h-2zM337 477h2v1h-2zM336 478h1v1h-1zM334 479h2v1h-2zM333 480h1v1h-1zM331 481h2v1h-2zM330 482h1v1h-1zM328 483h2v1h-2zM326 484h2v1h-2zM325 485h1v1h-1zM323 486h2v1h-2zM322 487h1v1h-1zM321 488h1v1h-1zM143 489h14v1h-14zM320 489h1v1h-1zM138 490h5v1h-5zM157 490h2v1h-2zM319 490h1v1h-1zM136 491h2v1h-2zM159 491h2v1h-2zM318 491h1v1h-1zM134 492h2v1h-2zM161 492h2v1h-2zM316 492h2v1h-2zM132 493h2v1h-2zM163 493h2v1h-2zM314 493h2v1h-2zM128 494h4v1h-4zM165 494h3v1h-3zM312 494h2v1h-2zM124 495h4v1h-4zM168 495h3v1h-3zM310 495h2v1h-2zM121 496h3v1h-3zM171 496h3v1h-3zM308 496h2v1h-2zM117 497h4v1h-4zM174 497h3v1h-3zM304 497h4v1h-4zM114 498h3v1h-3zM177 498h4v1h-4zM298 498h6v1h-6zM110 499h4v1h-4zM181 499h4v1h-4zM292 499h6v1h-6zM108 500h2v1h-2zM185 500h5v1h-5zM288 500h4v1h-4zM106 501h2v1h-2zM190 501h6v1h-6zM284 501h4v1h-4zM104 502h2v1h-2zM196 502h7v1h-7zM281 502h3v1h-3zM102 503h2v1h-2zM203 503h10v1h-10zM277 503h4v1h-4zM101 504h1v1h-1zM213 504h13v1h-13zM272 504h5v1h-5zM99 505h2v1h-2zM226 505h12v1h-12zM265 505h7v1h-7zM97 506h2v1h-2zM238 506h27v1h-27zM95 507h2v1h-2zM93 508h2v1h-2zM89 509h4v1h-4zM86 510h3v1h-3zM83 511h3v1h-3zM81 512h2v1h-2zM79 513h2v1h-2zM77 514h2v1h-2zM75 515h2v1h-2zM73 516h2v1h-2zM71 517h2v1h-2zM69 518h2v1h-2zM67 519h2v1h-2zM65 520h2v1h-2zM64 521h1v1h-1zM63 522h1v1h-1zM61 523h2v1h-2zM59 524h2v1h-2zM57 525h2v1h-2zM52 526h5v1h-5zM47 527h5v1h-5zM45 528h2v1h-2zM42 529h3v1h-3zM40 530h2v1h-2zM38 531h2v1h-2zM35 532h3v1h-3zM32 533h3v1h-3zM29 534h3v1h-3zM26 535h3v1h-3zM22 536h4v1h-4zM18 537h4v1h-4zM14 538h4v1h-4zM11 539h3v1h-3zM9 540h2v1h-2zM6 541h3v1h-3zM4 542h2v1h-2zM2 543h2v1h-2z" fill="#FFA500"/></g><g shape-rendering="crispEdges"><rect x="2" y="143" width="1685" height="2" fill="#FF0000"/><rect x="2" y="226" width="1685" height="2" fill="#FF0000"/><rect x="2" y="278" width="1685" height="2" fill="#FF0000"/><rect x="2" y="361" width="1685" height="2" fill="#32CD32"/><rect x="2" y="443" width="1685" height="2" fill="#4169E1"/><rect x="2" y="486" width="1685" height="2" fill="#4169E1"/></g><g clip-path="url(#cmacd)" shape-rendering="crispEdges"><rect x="2" y="617" width="1" height="9" fill="#C0C0C0"/><rect x="10" y="613" width="1" height="13" fill="#C0C0C0"/><rect x="18" y="610" width="1" height="16" fill="#C0C0C0"/><rect x="26" y="607" width="1" height="19" fill="#C0C0C0"/><rect x="34" y="605" width="1" height="21" fill="#C0C0C0"/><rect x="42" y="605" width="1" height="21" fill="#C0C0C0"/><rect x="50" y="605" width="1" height="21" fill="#C0C0C0"/><rect x="58" y="608" width="1" height="18" fill="#C0C0C0"/><rect x="66" y="609" width="1" height="17" fill="#C0C0C0"/><rect x="74" y="610" width="1" height="16" fill="#C0C0C0"/><rect x="82" y="612" width="1" height="14" fill="#C0C0C0"/><rect x="90" y="613" width="1" height="13" fill="#C0C0C0"/><rect x="98" y="613" width="1" height="13" fill="#C0C0C0"/><rect x="106" y="615" width="1" height="11" fill="#C0C0C0"/><rect x="114" y="616" width="1" height="10" fill="#C0C0C0"/><rect x="122" y="617" width="1" height="9" fill="#C0C0C0"/><rect x="130" y="617" width="1" height="9" fill="#C0C0C0"/><rect x="138" y="617" width="1" height="9" fill="#C0C0C0"/><rect x="146" y="619" width="1" height="7" fill="#C0C0C0"/><rect x="154" y="622" width="1" height="4" fill="#C0C0C0"/><rect x="162" y="625" width="1" height="1" fill="#C0C0C0"/><rect x="170" y="625" width="1" height="1" fill="#C0C0C0"/><rect x="178" y="625" width="1" height="1" fill="#C0C0C0"/><rect x="186" y="625" width="1" height="1" fill="#C0C0C0"/><rect x="194" y="625" width="1" height="1" fill="#C0C0C0"/><rect x="202" y="625" width="1" height="1" fill="#C0C0C0"/><rect x="210" y="624" width="1" height="2" fill="#C0C0C0"/><rect x="218" y="623" width="1" height="3" fill="#C0C0C0"/><rect x="226" y="623" width="1" height="3" fill="#C0C0C0"/><rect x="234" y="623" width="1" height="3" fill="#C0C0C0"/><rect x="242" y="623" width="1" height="3" fill="#C0C0C0"/><rect x="250" y="623" width="1" height="3" fill="#C0C0C0"/><rect x="258" y="624" width="1" height="2" fill="#C0C0C0"/><rect x="266" y="622" width="1" height="4" fill="#C0C0C0"/><rect x="274" y="620" width="1" height="6" fill="#C0C0C0"/><rect x="282" y="617" width="1" height="9" fill="#C0C0C0"/><rect x="290" y="614" width="1" height="12" fill="#C0C0C0"/><rect x="298" y="612" width="1" height="14" fill="#C0C0C0"/><rect x="306" y="611" width="1" height="15" fill="#C0C0C0"/><rect x="314" y="605" width="1" height="21" fill="#C0C0C0"/><rect x="322" y="602" width="1" height="24" fill="#C0C0C0"/><rect x="330" y="600" width="1" height="26" fill="#C0C0C0"/><rect x="338" y="599" width="1" height="27" fill="#C0C0C0"/><rect x="346" y="599" width="1" height="27" fill="#C0C0C0"/><rect x="354" y="600" width="1" height="26" fill="#C0C0C0"/><rect x="362" y="602" width="1" height="24" fill="#C0C0C0"/><rect x="370" y="604" width="1" height="22" fill="#C0C0C0"/><rect x="378" y="607" width="1" height="19" fill="#C0C0C0"/><rect x="386" y="610" width="1" height="16" fill="#C0C0C0"/><rect x="394" y="611" width="1" height="15" fill="#C0C0C0"/><rect x="402" y="611" width="1" height="15" fill="#C0C0C0"/><rect x="410" y="612" width="1" height="14" fill="#C0C0C0"/><rect x="418" y="612" width="1" height="14" fill="#C0C0C0"/><rect x="426" y="614" width="1" height="12" fill="#C0C0C0"/><rect x="434" y="615" width="1" height="11" fill="#C0C0C0"/><rect x="442" y="615" width="1" height="11" fill="#C0C0C0"/><rect x="450" y="615" width="1" height="11" fill="#C0C0C0"/><rect x="458" y="614" width="1" height="12" fill="#C0C0C0"/><rect x="466" y="613" width="1" height="13" fill="#C0C0C0"/><rect x="474" y="612" width="1" height="14" fill="#C0C0C0"/><rect x="482" y="611" width="1" height="15" fill="#C0C0C0"/><rect x="490" y="611" width="1" height="15" fill="#C0C0C0"/><rect x="498" y="611" width="1" height="15" fill="#C0C0C0"/><rect x="506" y="611" width="1" height="15" fill="#C0C0C0"/><rect x="514" y="612" width="1" height="14" fill="#C0C0C0"/><rect x="522" y="616" width="1" height="10" fill="#C0C0C0"/><rect x="530" y="617" width="1" height="9" fill="#C0C0C0"/><rect x="538" y="618" width="1" height="8" fill="#C0C0C0"/><rect x="546" y="617" width="1" height="9" fill="#C0C0C0"/><rect x="554" y="613" width="1" height="13" fill="#C0C0C0"/><rect x="562" y="612" width="1" height="14" fill="#C0C0C0"/><rect x="570" y="612" width="1" height="14" fill="#C0C0C0"/><rect x="578" y="610" width="1" height="16" fill="#C0C0C0"/><rect x="586" y="608" width="1" height="18" fill="#C0C0C0"/><rect x="594" y="607" width="1" height="19" fill="#C0C0C0"/><rect x="602" y="607" width="1" height="19" fill="#C0C0C0"/><rect x="610" y="606" width="1" height="20" fill="#C0C0C0"/><rect x="618" y="607" width="1" height="19" fill="#C0C0C0"/><rect x="626" y="608" width="1" height="18" fill="#C0C0C0"/><rect x="634" y="609" width="1" height="17" fill="#C0C0C0"/><rect x="642" y="610" width="1" height="16" fill="#C0C0C0"/><rect x="650" y="612" width="1" height="14" fill="#C0C0C0"/><rect x="658" y="614" width="1" height="12" fill="#C0C0C0"/><rect x="666" y="615" width="1" height="11" fill="#C0C0C0"/><rect x="674" y="618" width="1" height="8" fill="#C0C0C0"/><rect x="682" y="620" width="1" height="6" fill="#C0C0C0"/><rect x="690" y="623" width="1" height="3" fill="#C0C0C0"/><rect x="698" y="625" width="1" height="1" fill="#C0C0C0"/><rect x="706" y="625" width="1" height="6" fill="#C0C0C0"/><rect x="714" y="625" width="1" height="7" fill="#C0C0C0"/><rect x="722" y="625" width="1" height="7" fill="#C0C0C0"/><rect x="730" y="625" width="1" height="8" fill="#C0C0C0"/><rect x="738" y="625" width="1" height="8" fill="#C0C0C0"/><rect x="746" y="625" width="1" height="7" fill="#C0C0C0"/><rect x="754" y="625" width="1" height="6" fill="#C0C0C0"/><rect x="762" y="625" width="1" height="4" fill="#C0C0C0"/><rect x="770" y="625" width="1" height="3" fill="#C0C0C0"/><rect x="778" y="625" width="1" height="2" fill="#C0C0C0"/><rect x="786" y="625" width="1" height="1" fill="#C0C0C0"/><rect x="794" y="623" width="1" height="3" fill="#C0C0C0"/><rect x="802" y="621" width="1" height="5" fill="#C0C0C0"/><rect x="810" y="620" width="1" height="6" fill="#C0C0C0"/><rect x="818" y="621" width="1" height="5" fill="#C0C0C0"/><rect x="826" y="622" width="1" height="4" fill="#C0C0C0"/><rect x="834" y="621" width="1" height="5" fill="#C0C0C0"/><rect x="842" y="621" width="1" height="5" fill="#C0C0C0"/><rect x="850" y="621" width="1" height="5" fill="#C0C0C0"/><rect x="858" y="621" width="1" height="5" fill="#C0C0C0"/><rect x="866" y="620" width="1" height="6" fill="#C0C0C0"/><rect x="874" y="618" width="1" height="8" fill="#C0C0C0"/><rect x="882" y="617" width="1" height="9" fill="#C0C0C0"/><rect x="890" y="617" width="1" height="9" fill="#C0C0C0"/><rect x="898" y="618" width="1" height="8" fill="#C0C0C0"/><rect x="906" y="616" width="1" height="10" fill="#C0C0C0"/><rect x="914" y="614" width="1" height="12" fill="#C0C0C0"/><rect x="922" y="611" width="1" height="15" fill="#C0C0C0"/><rect x="930" y="607" width="1" height="19" fill="#C0C0C0"/><rect x="938" y="601" width="1" height="25" fill="#C0C0C0"/><rect x="946" y="599" width="1" height="27" fill="#C0C0C0"/><rect x="954" y="596" width="1" height="30" fill="#C0C0C0"/><rect x="962" y="591" width="1" height="35" fill="#C0C0C0"/><rect x="970" y="588" width="1" height="38" fill="#C0C0C0"/><rect x="978" y="585" width="1" height="41" fill="#C0C0C0"/><rect x="986" y="580" width="1" height="46" fill="#C0C0C0"/><rect x="994" y="575" width="1" height="51" fill="#C0C0C0"/><rect x="1002" y="574" width="1" height="52" fill="#C0C0C0"/><rect x="1010" y="573" width="1" height="53" fill="#C0C0C0"/><rect x="1018" y="573" width="1" height="53" fill="#C0C0C0"/><rect x="1026" y="575" width="1" height="51" fill="#C0C0C0"/><rect x="1034" y="575" width="1" height="51" fill="#C0C0C0"/><rect x="1042" y="573" width="1" height="53" fill="#C0C0C0"/><rect x="1050" y="571" width="1" height="55" fill="#C0C0C0"/><rect x="1058" y="572" width="1" height="54" fill="#C0C0C0"/><rect x="1066" y="574" width="1" height="52" fill="#C0C0C0"/><rect x="1074" y="578" width="1" height="48" fill="#C0C0C0"/><rect x="1082" y="584" width="1" height="42" fill="#C0C0C0"/><rect x="1090" y="588" width="1" height="38" fill="#C0C0C0"/><rect x="1098" y="590" width="1" height="36" fill="#C0C0C0"/><rect x="1106" y="591" width="1" height="35" fill="#C0C0C0"/><rect x="1114" y="593" width="1" height="33" fill="#C0C0C0"/><rect x="1122" y="597" width="1" height="29" fill="#C0C0C0"/><rect x="1130" y="600" width="1" height="26" fill="#C0C0C0"/><rect x="1138" y="603" width="1" height="23" fill="#C0C0C0"/><rect x="1146" y="601" width="1" height="25" fill="#C0C0C0"/><rect x="1154" y="600" width="1" height="26" fill="#C0C0C0"/><rect x="1162" y="602" width="1" height="24" fill="#C0C0C0"/><rect x="1170" y="602" width="1" height="24" fill="#C0C0C0"/><rect x="1178" y="601" width="1" height="25" fill="#C0C0C0"/><rect x="1186" y="601" width="1" height="25" fill="#C0C0C0"/><rect x="1194" y="602" width="1" height="24" fill="#C0C0C0"/><rect x="1202" y="605" width="1" height="21" fill="#C0C0C0"/><rect x="1210" y="608" width="1" height="18" fill="#C0C0C0"/><rect x="1218" y="610" width="1" height="16" fill="#C0C0C0"/><rect x="1226" y="616" width="1" height="10" fill="#C0C0C0"/><rect x="1234" y="621" width="1" height="5" fill="#C0C0C0"/><rect x="1242" y="624" width="1" height="2" fill="#C0C0C0"/><rect x="1250" y="625" width="1" height="1" fill="#C0C0C0"/><rect x="1258" y="625" width="1" height="6" fill="#C0C0C0"/><rect x="1266" y="625" width="1" height="6" fill="#C0C0C0"/><rect x="1274" y="625" width="1" height="4" fill="#C0C0C0"/><rect x="1282" y="625" width="1" height="3" fill="#C0C0C0"/><rect x="1290" y="625" width="1" height="2" fill="#C0C0C0"/><rect x="1298" y="625" width="1" height="2" fill="#C0C0C0"/><rect x="1306" y="625" width="1" height="1" fill="#C0C0C0"/><rect x="1314" y="624" width="1" height="2" fill="#C0C0C0"/><rect x="1322" y="623" width="1" height="3" fill="#C0C0C0"/><rect x="1330" y="623" width="1" height="3" fill="#C0C0C0"/><rect x="1338" y="620" width="1" height="6" fill="#C0C0C0"/><rect x="1346" y="618" width="1" height="8" fill="#C0C0C0"/><rect x="1354" y="614" width="1" height="12" fill="#C0C0C0"/><rect x="1362" y="609" width="1" height="17" fill="#C0C0C0"/><rect x="1370" y="602" width="1" height="24" fill="#C0C0C0"/><rect x="1378" y="596" width="1" height="30" fill="#C0C0C0"/><rect x="1386" y="594" width="1" height="32" fill="#C0C0C0"/><rect x="1394" y="593" width="1" height="33" fill="#C0C0C0"/><rect x="1402" y="593" width="1" height="33" fill="#C0C0C0"/><rect x="1410" y="592" width="1" height="34" fill="#C0C0C0"/><rect x="1418" y="595" width="1" height="31" fill="#C0C0C0"/><rect x="1426" y="600" width="1" height="26" fill="#C0C0C0"/><rect x="1434" y="604" width="1" height="22" fill="#C0C0C0"/><rect x="1442" y="609" width="1" height="17" fill="#C0C0C0"/><rect x="1450" y="616" width="1" height="10" fill="#C0C0C0"/><rect x="1458" y="623" width="1" height="3" fill="#C0C0C0"/><rect x="1466" y="625" width="1" height="1" fill="#C0C0C0"/><rect x="1474" y="625" width="1" height="4" fill="#C0C0C0"/><rect x="1482" y="625" width="1" height="10" fill="#C0C0C0"/><rect x="1490" y="625" width="1" height="16" fill="#C0C0C0"/><rect x="1498" y="625" width="1" height="19" fill="#C0C0C0"/><rect x="1506" y="625" width="1" height="22" fill="#C0C0C0"/><rect x="1514" y="625" width="1" height="24" fill="#C0C0C0"/><rect x="1522" y="625" width="1" height="27" fill="#C0C0C0"/><rect x="1530" y="625" width="1" height="26" fill="#C0C0C0"/><rect x="1538" y="625" width="1" height="24" fill="#C0C0C0"/><rect x="1546" y="625" width="1" height="27" fill="#C0C0C0"/><rect x="1554" y="625" width="1" height="29" fill="#C0C0C0"/><rect x="1562" y="625" width="1" height="32" fill="#C0C0C0"/><rect x="1570" y="625" width="1" height="33" fill="#C0C0C0"/><rect x="1578" y="625" width="1" height="38" fill="#C0C0C0"/><rect x="1586" y="625" width="1" height="43" fill="#C0C0C0"/><rect x="1594" y="625" width="1" height="48" fill="#C0C0C0"/><rect x="1602" y="625" width="1" height="53" fill="#C0C0C0"/><rect x="1610" y="625" width="1" height="56" fill="#C0C0C0"/><rect x="1618" y="625" width="1" height="57" fill="#C0C0C0"/><rect x="1626" y="625" width="1" height="54" fill="#C0C0C0"/><rect x="1634" y="625" width="1" height="52" fill="#C0C0C0"/><rect x="1642" y="625" width="1" height="48" fill="#C0C0C0"/><rect x="1650" y="625" width="1" height="46" fill="#C0C0C0"/><rect x="1658" y="625" width="1" height="44" fill="#C0C0C0"/><rect x="1666" y="625" width="1" height="44" fill="#C0C0C0"/><path d="M1058 572h3v1h-3zM1064 572h3v1h-3zM1052 573h3v1h-3zM1070 573h3v1h-3zM1076 573h3v1h-3zM1048 574h1v1h-1zM1082 574h2v1h-2zM1046 575h2v1h-2zM1084 575h1v1h-1zM1040 576h3v1h-3zM1088 576h3v1h-3zM1034 577h3v1h-3zM1094 577h3v1h-3zM1030 578h1v1h-1zM1100 578h2v1h-2zM1028 579h2v1h-2zM1102 579h1v1h-1zM1022 580h3v1h-3zM1106 580h2v1h-2zM1018 581h1v1h-1zM1108 581h1v1h-1zM1016 582h2v1h-2zM1112 582h3v1h-3zM1012 583h1v1h-1zM1010 584h2v1h-2zM1118 584h3v1h-3zM1005 586h2v1h-2zM1124 586h3v1h-3zM1004 587h1v1h-1zM1000 588h1v1h-1zM1130 588h3v1h-3zM998 589h2v1h-2zM1136 590h3v1h-3zM993 591h2v1h-2zM992 592h1v1h-1zM1142 592h3v1h-3zM987 594h2v1h-2zM1148 594h3v1h-3zM986 595h1v1h-1zM1154 595h3v1h-3zM1160 596h3v1h-3zM981 597h2v1h-2zM1166 597h3v1h-3zM1424 597h3v1h-3zM1430 597h3v1h-3zM1436 597h3v1h-3zM1442 597h3v1h-3zM980 598h1v1h-1zM1172 598h3v1h-3zM1178 598h2v1h-2zM1420 598h1v1h-1zM1448 598h2v1h-2zM1180 599h1v1h-1zM1184 599h3v1h-3zM1190 599h2v1h-2zM1418 599h2v1h-2zM1450 599h1v1h-1zM975 600h2v1h-2zM1192 600h1v1h-1zM1196 600h3v1h-3zM1202 600h1v1h-1zM1413 600h2v1h-2zM1454 600h1v1h-1zM974 601h1v1h-1zM1203 601h2v1h-2zM1208 601h3v1h-3zM1412 601h1v1h-1zM1455 601h2v1h-2zM364 602h1v1h-1zM368 602h3v1h-3zM374 602h3v1h-3zM380 602h3v1h-3zM386 602h3v1h-3zM392 602h2v1h-2zM970 602h1v1h-1zM1214 602h3v1h-3zM1407 602h2v1h-2zM1460 602h1v1h-1zM362 603h2v1h-2zM394 603h1v1h-1zM398 603h2v1h-2zM968 603h2v1h-2zM1220 603h3v1h-3zM1406 603h1v1h-1zM1461 603h2v1h-2zM356 604h3v1h-3zM400 604h1v1h-1zM404 604h3v1h-3zM1226 604h2v1h-2zM1400 604h3v1h-3zM350 605h3v1h-3zM410 605h3v1h-3zM964 605h1v1h-1zM1228 605h1v1h-1zM1466 605h2v1h-2zM76 606h1v1h-1zM80 606h3v1h-3zM86 606h1v1h-1zM345 606h2v1h-2zM416 606h2v1h-2zM962 606h2v1h-2zM1232 606h2v1h-2zM1396 606h1v1h-1zM1468 606h1v1h-1zM68 607h3v1h-3zM74 607h2v1h-2zM87 607h2v1h-2zM92 607h3v1h-3zM344 607h1v1h-1zM418 607h1v1h-1zM956 607h3v1h-3zM1234 607h1v1h-1zM1394 607h2v1h-2zM1472 607h1v1h-1zM63 608h2v1h-2zM98 608h3v1h-3zM338 608h3v1h-3zM422 608h3v1h-3zM626 608h3v1h-3zM632 608h3v1h-3zM638 608h3v1h-3zM644 608h3v1h-3zM650 608h3v1h-3zM656 608h2v1h-2zM950 608h3v1h-3zM1238 608h2v1h-2zM1473 608h2v1h-2zM62 609h1v1h-1zM104 609h3v1h-3zM428 609h3v1h-3zM620 609h3v1h-3zM658 609h1v1h-1zM662 609h3v1h-3zM945 609h2v1h-2zM1240 609h1v1h-1zM1389 609h2v1h-2zM56 610h3v1h-3zM110 610h3v1h-3zM116 610h2v1h-2zM332 610h3v1h-3zM434 610h3v1h-3zM440 610h1v1h-1zM610 610h1v1h-1zM614 610h3v1h-3zM668 610h3v1h-3zM944 610h1v1h-1zM1244 610h1v1h-1zM1388 610h1v1h-1zM51 611h2v1h-2zM118 611h1v1h-1zM122 611h3v1h-3zM328 611h1v1h-1zM441 611h2v1h-2zM446 611h3v1h-3zM452 611h1v1h-1zM602 611h3v1h-3zM608 611h2v1h-2zM674 611h3v1h-3zM680 611h1v1h-1zM938 611h3v1h-3zM1245 611h2v1h-2zM1384 611h1v1h-1zM1478 611h1v1h-1zM50 612h1v1h-1zM128 612h3v1h-3zM326 612h2v1h-2zM453 612h2v1h-2zM458 612h3v1h-3zM464 612h3v1h-3zM470 612h1v1h-1zM496 612h1v1h-1zM500 612h3v1h-3zM506 612h3v1h-3zM512 612h3v1h-3zM518 612h2v1h-2zM596 612h3v1h-3zM681 612h2v1h-2zM1382 612h2v1h-2zM1479 612h1v1h-1zM45 613h2v1h-2zM134 613h3v1h-3zM140 613h2v1h-2zM322 613h1v1h-1zM471 613h2v1h-2zM476 613h3v1h-3zM482 613h3v1h-3zM488 613h3v1h-3zM494 613h2v1h-2zM520 613h1v1h-1zM524 613h3v1h-3zM530 613h3v1h-3zM536 613h3v1h-3zM542 613h2v1h-2zM585 613h2v1h-2zM590 613h3v1h-3zM686 613h3v1h-3zM932 613h3v1h-3zM1250 613h3v1h-3zM1480 613h1v1h-1zM44 614h1v1h-1zM142 614h1v1h-1zM146 614h3v1h-3zM320 614h2v1h-2zM544 614h1v1h-1zM548 614h3v1h-3zM554 614h3v1h-3zM560 614h3v1h-3zM566 614h3v1h-3zM572 614h3v1h-3zM578 614h3v1h-3zM584 614h1v1h-1zM692 614h1v1h-1zM928 614h1v1h-1zM1378 614h1v1h-1zM40 615h1v1h-1zM152 615h3v1h-3zM315 615h2v1h-2zM693 615h2v1h-2zM926 615h2v1h-2zM1256 615h3v1h-3zM1376 615h2v1h-2zM38 616h2v1h-2zM158 616h3v1h-3zM314 616h1v1h-1zM698 616h3v1h-3zM920 616h3v1h-3zM1370 616h3v1h-3zM1484 616h2v1h-2zM34 617h1v1h-1zM164 617h3v1h-3zM308 617h3v1h-3zM704 617h1v1h-1zM914 617h3v1h-3zM1262 617h2v1h-2zM1366 617h1v1h-1zM1486 617h1v1h-1zM32 618h2v1h-2zM170 618h3v1h-3zM303 618h2v1h-2zM705 618h2v1h-2zM902 618h3v1h-3zM908 618h3v1h-3zM1264 618h1v1h-1zM1364 618h2v1h-2zM302 619h1v1h-1zM710 619h1v1h-1zM884 619h3v1h-3zM890 619h3v1h-3zM896 619h3v1h-3zM1268 619h2v1h-2zM1358 619h3v1h-3zM26 620h3v1h-3zM176 620h3v1h-3zM296 620h3v1h-3zM711 620h2v1h-2zM866 620h3v1h-3zM872 620h3v1h-3zM878 620h3v1h-3zM1270 620h1v1h-1zM1354 620h1v1h-1zM1490 620h1v1h-1zM182 621h1v1h-1zM290 621h3v1h-3zM716 621h1v1h-1zM854 621h3v1h-3zM860 621h3v1h-3zM1274 621h1v1h-1zM1352 621h2v1h-2zM1491 621h1v1h-1zM21 622h2v1h-2zM183 622h2v1h-2zM284 622h3v1h-3zM717 622h2v1h-2zM838 622h1v1h-1zM842 622h3v1h-3zM848 622h3v1h-3zM1275 622h2v1h-2zM1346 622h3v1h-3zM1492 622h1v1h-1zM20 623h1v1h-1zM188 623h1v1h-1zM273 623h2v1h-2zM278 623h3v1h-3zM722 623h1v1h-1zM826 623h1v1h-1zM830 623h3v1h-3zM836 623h2v1h-2zM1280 623h2v1h-2zM1340 623h3v1h-3zM189 624h2v1h-2zM194 624h3v1h-3zM200 624h3v1h-3zM256 624h1v1h-1zM260 624h3v1h-3zM266 624h3v1h-3zM272 624h1v1h-1zM723 624h2v1h-2zM818 624h3v1h-3zM824 624h2v1h-2zM1282 624h1v1h-1zM1286 624h2v1h-2zM1336 624h1v1h-1zM1496 624h2v1h-2zM15 625h2v1h-2zM206 625h3v1h-3zM212 625h3v1h-3zM218 625h3v1h-3zM224 625h3v1h-3zM230 625h3v1h-3zM236 625h3v1h-3zM242 625h3v1h-3zM248 625h3v1h-3zM254 625h2v1h-2zM728 625h3v1h-3zM806 625h3v1h-3zM812 625h3v1h-3zM1288 625h1v1h-1zM1292 625h2v1h-2zM1334 625h2v1h-2zM1498 625h1v1h-1zM14 626h1v1h-1zM734 626h3v1h-3zM800 626h3v1h-3zM1294 626h1v1h-1zM1298 626h2v1h-2zM1316 626h3v1h-3zM1322 626h3v1h-3zM1328 626h3v1h-3zM10 627h1v1h-1zM740 627h3v1h-3zM794 627h3v1h-3zM1300 627h1v1h-1zM1304 627h3v1h-3zM1310 627h3v1h-3zM1502 627h2v1h-2zM8 628h2v1h-2zM746 628h3v1h-3zM788 628h3v1h-3zM1504 628h1v1h-1zM752 629h3v1h-3zM758 629h3v1h-3zM782 629h3v1h-3zM4 630h1v1h-1zM764 630h3v1h-3zM770 630h3v1h-3zM776 630h3v1h-3zM1508 630h2v1h-2zM2 631h2v1h-2zM1510 631h1v1h-1zM1514 633h2v1h-2zM1516 634h1v1h-1zM1520 635h1v1h-1zM1521 636h2v1h-2zM1526 638h2v1h-2zM1528 639h1v1h-1zM1532 641h2v1h-2zM1534 642h1v1h-1zM1538 643h2v1h-2zM1540 644h1v1h-1zM1544 645h2v1h-2zM1546 646h1v1h-1zM1550 647h2v1h-2zM1552 648h1v1h-1zM1556 649h2v1h-2zM1558 650h1v1h-1zM1562 650h1v1h-1zM1563 651h2v1h-2zM1568 651h1v1h-1zM1569 652h2v1h-2zM1574 652h1v1h-1zM1575 653h2v1h-2zM1580 653h1v1h-1zM1581 654h2v1h-2zM1586 655h2v1h-2zM1588 656h1v1h-1zM1592 657h2v1h-2zM1594 658h1v1h-1zM1598 659h1v1h-1zM1599 660h2v1h-2zM1604 662h3v1h-3zM1610 664h1v1h-1zM1611 665h2v1h-2zM1616 667h1v1h-1zM1617 668h2v1h-2zM1622 669h1v1h-1zM1623 670h2v1h-2zM1628 671h1v1h-1zM1629 672h2v1h-2zM1634 673h3v1h-3zM1640 674h3v1h-3zM1646 675h3v1h-3zM1652 675h3v1h-3zM1658 676h3v1h-3zM1664 676h3v1h-3z" fill="#FF0000"/></g><g clip-path="url(#crsi)" shape-rendering="crispEdges"><line x1="3" y1="728.5" x2="1687" y2="728.5" stroke="#C0C0C0" stroke-width="1" stroke-dasharray="3 3"/><line x1="3" y1="778.5" x2="1687" y2="778.5" stroke="#C0C0C0" stroke-width="1" stroke-dasharray="3 3"/><path d="M992 708h3v1h-3zM988 709h4v1h-4zM995 709h1v1h-1zM985 710h3v1h-3zM995 710h1v1h-1zM983 711h2v1h-2zM996 711h1v1h-1zM981 712h2v1h-2zM996 712h1v1h-1zM979 713h2v1h-2zM997 713h1v1h-1zM976 714h3v1h-3zM997 714h1v1h-1zM972 715h4v1h-4zM998 715h1v1h-1zM962 716h10v1h-10zM998 716h1v1h-1zM937 717h2v1h-2zM960 717h2v1h-2zM999 717h1v1h-1zM935 718h2v1h-2zM939 718h1v1h-1zM958 718h2v1h-2zM999 718h1v1h-1zM933 719h2v1h-2zM940 719h2v1h-2zM957 719h1v1h-1zM1000 719h1v1h-1zM931 720h2v1h-2zM942 720h1v1h-1zM955 720h2v1h-2zM1000 720h1v1h-1zM1009 720h2v1h-2zM930 721h1v1h-1zM943 721h1v1h-1zM952 721h3v1h-3zM1001 721h1v1h-1zM1006 721h3v1h-3zM1011 721h2v1h-2zM929 722h1v1h-1zM944 722h2v1h-2zM948 722h4v1h-4zM1001 722h1v1h-1zM1004 722h2v1h-2zM1013 722h2v1h-2zM1042 722h10v1h-10zM928 723h1v1h-1zM946 723h2v1h-2zM1002 723h2v1h-2zM1015 723h2v1h-2zM1040 723h2v1h-2zM1052 723h4v1h-4zM314 724h1v1h-1zM926 724h2v1h-2zM1017 724h2v1h-2zM1039 724h1v1h-1zM1056 724h3v1h-3zM313 725h1v1h-1zM315 725h2v1h-2zM925 725h1v1h-1zM1019 725h1v1h-1zM1038 725h1v1h-1zM1059 725h1v1h-1zM1376 725h3v1h-3zM313 726h1v1h-1zM317 726h2v1h-2zM924 726h1v1h-1zM1020 726h1v1h-1zM1036 726h2v1h-2zM1059 726h1v1h-1zM1372 726h4v1h-4zM1379 726h1v1h-1zM312 727h1v1h-1zM319 727h2v1h-2zM923 727h1v1h-1zM1021 727h1v1h-1zM1035 727h1v1h-1zM1060 727h1v1h-1zM1370 727h2v1h-2zM1380 727h1v1h-1zM311 728h1v1h-1zM321 728h5v1h-5zM922 728h1v1h-1zM1022 728h1v1h-1zM1033 728h2v1h-2zM1061 728h1v1h-1zM1368 728h2v1h-2zM1380 728h1v1h-1zM310 729h1v1h-1zM326 729h5v1h-5zM920 729h2v1h-2zM1023 729h1v1h-1zM1031 729h2v1h-2zM1061 729h1v1h-1zM1367 729h1v1h-1zM1381 729h1v1h-1zM310 730h1v1h-1zM331 730h2v1h-2zM919 730h1v1h-1zM1024 730h1v1h-1zM1029 730h2v1h-2zM1062 730h1v1h-1zM1366 730h1v1h-1zM1382 730h1v1h-1zM288 731h3v1h-3zM309 731h1v1h-1zM333 731h2v1h-2zM554 731h1v1h-1zM918 731h1v1h-1zM1025 731h1v1h-1zM1027 731h2v1h-2zM1063 731h1v1h-1zM1364 731h2v1h-2zM1383 731h1v1h-1zM16 732h3v1h-3zM284 732h4v1h-4zM291 732h1v1h-1zM308 732h1v1h-1zM335 732h2v1h-2zM481 732h3v1h-3zM553 732h1v1h-1zM555 732h1v1h-1zM916 732h2v1h-2zM1026 732h1v1h-1zM1063 732h1v1h-1zM1363 732h1v1h-1zM1384 732h1v1h-1zM2 733h4v1h-4zM12 733h4v1h-4zM19 733h2v1h-2zM282 733h2v1h-2zM292 733h1v1h-1zM307 733h1v1h-1zM337 733h3v1h-3zM478 733h3v1h-3zM484 733h2v1h-2zM552 733h1v1h-1zM555 733h1v1h-1zM915 733h1v1h-1zM1064 733h1v1h-1zM1361 733h2v1h-2zM1384 733h1v1h-1zM6 734h6v1h-6zM21 734h1v1h-1zM281 734h1v1h-1zM293 734h1v1h-1zM307 734h1v1h-1zM340 734h4v1h-4zM476 734h2v1h-2zM486 734h3v1h-3zM550 734h2v1h-2zM556 734h1v1h-1zM912 734h3v1h-3zM1065 734h1v1h-1zM1359 734h2v1h-2zM1385 734h1v1h-1zM1390 734h5v1h-5zM22 735h2v1h-2zM280 735h1v1h-1zM294 735h1v1h-1zM305 735h2v1h-2zM344 735h3v1h-3zM474 735h2v1h-2zM489 735h3v1h-3zM549 735h1v1h-1zM556 735h1v1h-1zM582 735h8v1h-8zM908 735h4v1h-4zM1065 735h1v1h-1zM1357 735h2v1h-2zM1386 735h4v1h-4zM1395 735h2v1h-2zM24 736h2v1h-2zM30 736h5v1h-5zM279 736h1v1h-1zM295 736h1v1h-1zM303 736h2v1h-2zM347 736h1v1h-1zM472 736h2v1h-2zM492 736h4v1h-4zM548 736h1v1h-1zM557 736h1v1h-1zM577 736h5v1h-5zM590 736h8v1h-8zM906 736h2v1h-2zM1066 736h1v1h-1zM1146 736h2v1h-2zM1355 736h2v1h-2zM1397 736h2v1h-2zM1408 736h3v1h-3zM26 737h4v1h-4zM35 737h2v1h-2zM278 737h1v1h-1zM296 737h1v1h-1zM301 737h2v1h-2zM348 737h2v1h-2zM471 737h1v1h-1zM496 737h3v1h-3zM547 737h1v1h-1zM557 737h1v1h-1zM574 737h3v1h-3zM598 737h13v1h-13zM626 737h1v1h-1zM905 737h1v1h-1zM1067 737h2v1h-2zM1145 737h1v1h-1zM1148 737h2v1h-2zM1177 737h10v1h-10zM1354 737h1v1h-1zM1399 737h2v1h-2zM1404 737h4v1h-4zM1411 737h1v1h-1zM37 738h2v1h-2zM277 738h1v1h-1zM297 738h1v1h-1zM299 738h2v1h-2zM350 738h1v1h-1zM470 738h1v1h-1zM499 738h2v1h-2zM546 738h1v1h-1zM558 738h1v1h-1zM572 738h2v1h-2zM611 738h1v1h-1zM624 738h2v1h-2zM627 738h1v1h-1zM874 738h1v1h-1zM904 738h1v1h-1zM1069 738h2v1h-2zM1144 738h1v1h-1zM1150 738h3v1h-3zM1175 738h2v1h-2zM1187 738h1v1h-1zM1353 738h1v1h-1zM1401 738h3v1h-3zM1412 738h1v1h-1zM39 739h2v1h-2zM276 739h1v1h-1zM298 739h1v1h-1zM351 739h1v1h-1zM468 739h2v1h-2zM501 739h2v1h-2zM545 739h1v1h-1zM558 739h1v1h-1zM570 739h2v1h-2zM612 739h2v1h-2zM623 739h1v1h-1zM627 739h1v1h-1zM872 739h2v1h-2zM875 739h2v1h-2zM903 739h1v1h-1zM1071 739h2v1h-2zM1104 739h4v1h-4zM1144 739h1v1h-1zM1153 739h2v1h-2zM1173 739h2v1h-2zM1188 739h1v1h-1zM1352 739h1v1h-1zM1412 739h1v1h-1zM41 740h3v1h-3zM275 740h1v1h-1zM352 740h2v1h-2zM467 740h1v1h-1zM503 740h2v1h-2zM545 740h1v1h-1zM559 740h1v1h-1zM569 740h1v1h-1zM614 740h1v1h-1zM622 740h1v1h-1zM628 740h1v1h-1zM871 740h1v1h-1zM877 740h2v1h-2zM902 740h1v1h-1zM1073 740h2v1h-2zM1100 740h4v1h-4zM1108 740h4v1h-4zM1143 740h1v1h-1zM1155 740h2v1h-2zM1171 740h2v1h-2zM1188 740h1v1h-1zM1351 740h1v1h-1zM1413 740h1v1h-1zM44 741h4v1h-4zM273 741h2v1h-2zM354 741h2v1h-2zM465 741h2v1h-2zM505 741h2v1h-2zM544 741h1v1h-1zM559 741h1v1h-1zM568 741h1v1h-1zM615 741h1v1h-1zM620 741h2v1h-2zM629 741h1v1h-1zM798 741h13v1h-13zM870 741h1v1h-1zM879 741h2v1h-2zM901 741h1v1h-1zM1075 741h1v1h-1zM1097 741h3v1h-3zM1112 741h3v1h-3zM1142 741h1v1h-1zM1157 741h2v1h-2zM1168 741h3v1h-3zM1189 741h1v1h-1zM1350 741h1v1h-1zM1414 741h1v1h-1zM48 742h3v1h-3zM270 742h3v1h-3zM356 742h2v1h-2zM462 742h3v1h-3zM507 742h1v1h-1zM543 742h1v1h-1zM560 742h1v1h-1zM567 742h1v1h-1zM616 742h2v1h-2zM619 742h1v1h-1zM630 742h1v1h-1zM770 742h2v1h-2zM794 742h4v1h-4zM811 742h1v1h-1zM868 742h2v1h-2zM881 742h5v1h-5zM900 742h1v1h-1zM1076 742h1v1h-1zM1094 742h3v1h-3zM1115 742h1v1h-1zM1141 742h1v1h-1zM1159 742h2v1h-2zM1164 742h4v1h-4zM1190 742h1v1h-1zM1338 742h1v1h-1zM1350 742h1v1h-1zM1415 742h1v1h-1zM51 743h2v1h-2zM268 743h2v1h-2zM358 743h3v1h-3zM366 743h5v1h-5zM448 743h6v1h-6zM460 743h2v1h-2zM508 743h1v1h-1zM543 743h1v1h-1zM560 743h1v1h-1zM566 743h1v1h-1zM618 743h1v1h-1zM630 743h1v1h-1zM768 743h2v1h-2zM772 743h2v1h-2zM793 743h1v1h-1zM811 743h1v1h-1zM867 743h1v1h-1zM886 743h8v1h-8zM899 743h1v1h-1zM1077 743h1v1h-1zM1092 743h2v1h-2zM1116 743h1v1h-1zM1140 743h1v1h-1zM1161 743h3v1h-3zM1191 743h1v1h-1zM1337 743h1v1h-1zM1339 743h2v1h-2zM1349 743h1v1h-1zM1416 743h1v1h-1zM53 744h1v1h-1zM65 744h2v1h-2zM209 744h2v1h-2zM265 744h3v1h-3zM361 744h5v1h-5zM371 744h1v1h-1zM400 744h4v1h-4zM424 744h3v1h-3zM444 744h4v1h-4zM454 744h6v1h-6zM508 744h1v1h-1zM542 744h1v1h-1zM561 744h1v1h-1zM565 744h1v1h-1zM631 744h1v1h-1zM766 744h2v1h-2zM774 744h3v1h-3zM792 744h1v1h-1zM812 744h1v1h-1zM864 744h3v1h-3zM894 744h5v1h-5zM1078 744h1v1h-1zM1089 744h3v1h-3zM1117 744h1v1h-1zM1140 744h1v1h-1zM1192 744h1v1h-1zM1336 744h1v1h-1zM1341 744h2v1h-2zM1348 744h1v1h-1zM1416 744h1v1h-1zM54 745h2v1h-2zM62 745h3v1h-3zM67 745h2v1h-2zM207 745h2v1h-2zM211 745h2v1h-2zM262 745h3v1h-3zM372 745h1v1h-1zM396 745h4v1h-4zM404 745h2v1h-2zM420 745h4v1h-4zM427 745h2v1h-2zM441 745h3v1h-3zM509 745h1v1h-1zM541 745h1v1h-1zM561 745h1v1h-1zM564 745h1v1h-1zM632 745h1v1h-1zM765 745h1v1h-1zM777 745h2v1h-2zM790 745h2v1h-2zM812 745h1v1h-1zM860 745h4v1h-4zM1079 745h1v1h-1zM1087 745h2v1h-2zM1118 745h1v1h-1zM1139 745h1v1h-1zM1192 745h1v1h-1zM1335 745h1v1h-1zM1343 745h2v1h-2zM1347 745h1v1h-1zM1417 745h1v1h-1zM56 746h2v1h-2zM60 746h2v1h-2zM69 746h2v1h-2zM96 746h3v1h-3zM113 746h2v1h-2zM205 746h2v1h-2zM213 746h2v1h-2zM260 746h2v1h-2zM373 746h1v1h-1zM394 746h2v1h-2zM406 746h3v1h-3zM414 746h6v1h-6zM429 746h2v1h-2zM438 746h3v1h-3zM510 746h1v1h-1zM541 746h1v1h-1zM562 746h2v1h-2zM633 746h1v1h-1zM640 746h4v1h-4zM763 746h2v1h-2zM779 746h2v1h-2zM789 746h1v1h-1zM813 746h1v1h-1zM857 746h3v1h-3zM1080 746h1v1h-1zM1085 746h2v1h-2zM1118 746h1v1h-1zM1136 746h3v1h-3zM1193 746h1v1h-1zM1289 746h2v1h-2zM1321 746h2v1h-2zM1334 746h1v1h-1zM1345 746h2v1h-2zM1418 746h1v1h-1zM58 747h2v1h-2zM71 747h2v1h-2zM92 747h4v1h-4zM99 747h2v1h-2zM111 747h2v1h-2zM115 747h1v1h-1zM203 747h2v1h-2zM215 747h2v1h-2zM256 747h4v1h-4zM374 747h1v1h-1zM392 747h2v1h-2zM409 747h5v1h-5zM431 747h2v1h-2zM436 747h2v1h-2zM511 747h1v1h-1zM540 747h1v1h-1zM562 747h1v1h-1zM633 747h1v1h-1zM636 747h4v1h-4zM644 747h2v1h-2zM762 747h1v1h-1zM781 747h2v1h-2zM788 747h1v1h-1zM813 747h1v1h-1zM855 747h2v1h-2zM1081 747h1v1h-1zM1083 747h2v1h-2zM1119 747h1v1h-1zM1132 747h4v1h-4zM1194 747h2v1h-2zM1287 747h2v1h-2zM1291 747h2v1h-2zM1319 747h2v1h-2zM1323 747h2v1h-2zM1334 747h1v1h-1zM1419 747h1v1h-1zM73 748h3v1h-3zM88 748h4v1h-4zM101 748h2v1h-2zM109 748h2v1h-2zM116 748h1v1h-1zM134 748h5v1h-5zM201 748h2v1h-2zM217 748h2v1h-2zM252 748h4v1h-4zM375 748h1v1h-1zM391 748h1v1h-1zM433 748h3v1h-3zM512 748h1v1h-1zM539 748h1v1h-1zM634 748h2v1h-2zM646 748h3v1h-3zM761 748h1v1h-1zM783 748h2v1h-2zM787 748h1v1h-1zM814 748h1v1h-1zM826 748h2v1h-2zM853 748h2v1h-2zM1082 748h1v1h-1zM1120 748h1v1h-1zM1128 748h4v1h-4zM1196 748h2v1h-2zM1285 748h2v1h-2zM1293 748h2v1h-2zM1317 748h2v1h-2zM1325 748h1v1h-1zM1333 748h1v1h-1zM1420 748h1v1h-1zM76 749h4v1h-4zM84 749h4v1h-4zM103 749h2v1h-2zM107 749h2v1h-2zM117 749h1v1h-1zM130 749h4v1h-4zM139 749h1v1h-1zM198 749h3v1h-3zM219 749h1v1h-1zM250 749h2v1h-2zM376 749h1v1h-1zM390 749h1v1h-1zM512 749h1v1h-1zM539 749h1v1h-1zM649 749h13v1h-13zM760 749h1v1h-1zM785 749h2v1h-2zM814 749h1v1h-1zM825 749h1v1h-1zM828 749h4v1h-4zM851 749h2v1h-2zM1121 749h1v1h-1zM1124 749h4v1h-4zM1198 749h3v1h-3zM1283 749h2v1h-2zM1295 749h2v1h-2zM1315 749h2v1h-2zM1326 749h2v1h-2zM1332 749h1v1h-1zM1421 749h1v1h-1zM80 750h4v1h-4zM105 750h2v1h-2zM118 750h1v1h-1zM128 750h2v1h-2zM140 750h1v1h-1zM196 750h2v1h-2zM219 750h1v1h-1zM248 750h2v1h-2zM377 750h1v1h-1zM388 750h2v1h-2zM513 750h1v1h-1zM534 750h5v1h-5zM662 750h5v1h-5zM759 750h1v1h-1zM815 750h1v1h-1zM824 750h1v1h-1zM832 750h19v1h-19zM1122 750h2v1h-2zM1201 750h18v1h-18zM1280 750h3v1h-3zM1297 750h2v1h-2zM1314 750h1v1h-1zM1328 750h2v1h-2zM1331 750h1v1h-1zM1422 750h1v1h-1zM119 751h1v1h-1zM126 751h2v1h-2zM141 751h1v1h-1zM193 751h3v1h-3zM220 751h1v1h-1zM246 751h2v1h-2zM378 751h4v1h-4zM387 751h1v1h-1zM514 751h1v1h-1zM529 751h5v1h-5zM667 751h1v1h-1zM758 751h1v1h-1zM815 751h1v1h-1zM823 751h1v1h-1zM1219 751h1v1h-1zM1276 751h4v1h-4zM1299 751h1v1h-1zM1312 751h2v1h-2zM1330 751h1v1h-1zM1423 751h1v1h-1zM120 752h1v1h-1zM125 752h1v1h-1zM142 752h1v1h-1zM190 752h3v1h-3zM221 752h1v1h-1zM245 752h1v1h-1zM382 752h5v1h-5zM515 752h2v1h-2zM527 752h2v1h-2zM668 752h1v1h-1zM758 752h1v1h-1zM816 752h1v1h-1zM822 752h1v1h-1zM1219 752h1v1h-1zM1274 752h2v1h-2zM1300 752h2v1h-2zM1311 752h1v1h-1zM1424 752h1v1h-1zM121 753h1v1h-1zM123 753h2v1h-2zM143 753h1v1h-1zM188 753h2v1h-2zM222 753h1v1h-1zM243 753h2v1h-2zM517 753h2v1h-2zM525 753h2v1h-2zM668 753h1v1h-1zM757 753h1v1h-1zM816 753h1v1h-1zM821 753h1v1h-1zM1220 753h1v1h-1zM1273 753h1v1h-1zM1302 753h1v1h-1zM1310 753h1v1h-1zM1425 753h1v1h-1zM122 754h1v1h-1zM144 754h1v1h-1zM186 754h2v1h-2zM222 754h1v1h-1zM240 754h3v1h-3zM519 754h2v1h-2zM523 754h2v1h-2zM669 754h1v1h-1zM756 754h1v1h-1zM817 754h1v1h-1zM820 754h1v1h-1zM1220 754h1v1h-1zM1272 754h1v1h-1zM1303 754h1v1h-1zM1308 754h2v1h-2zM1426 754h10v1h-10zM145 755h1v1h-1zM184 755h2v1h-2zM223 755h1v1h-1zM236 755h4v1h-4zM521 755h2v1h-2zM670 755h1v1h-1zM755 755h1v1h-1zM817 755h1v1h-1zM819 755h1v1h-1zM1221 755h1v1h-1zM1270 755h2v1h-2zM1304 755h2v1h-2zM1307 755h1v1h-1zM1436 755h2v1h-2zM146 756h1v1h-1zM182 756h2v1h-2zM224 756h1v1h-1zM233 756h3v1h-3zM671 756h1v1h-1zM738 756h4v1h-4zM750 756h5v1h-5zM818 756h1v1h-1zM1221 756h1v1h-1zM1269 756h1v1h-1zM1306 756h1v1h-1zM1438 756h3v1h-3zM147 757h2v1h-2zM181 757h1v1h-1zM225 757h1v1h-1zM230 757h3v1h-3zM672 757h1v1h-1zM737 757h1v1h-1zM742 757h8v1h-8zM1222 757h1v1h-1zM1268 757h1v1h-1zM1441 757h2v1h-2zM149 758h1v1h-1zM179 758h2v1h-2zM225 758h1v1h-1zM228 758h2v1h-2zM672 758h1v1h-1zM680 758h3v1h-3zM736 758h1v1h-1zM1223 758h1v1h-1zM1267 758h1v1h-1zM1443 758h1v1h-1zM1536 758h3v1h-3zM150 759h2v1h-2zM177 759h2v1h-2zM226 759h2v1h-2zM673 759h1v1h-1zM676 759h4v1h-4zM683 759h2v1h-2zM721 759h2v1h-2zM734 759h2v1h-2zM1223 759h1v1h-1zM1265 759h2v1h-2zM1444 759h1v1h-1zM1466 759h1v1h-1zM1532 759h4v1h-4zM1539 759h1v1h-1zM152 760h2v1h-2zM175 760h2v1h-2zM674 760h2v1h-2zM685 760h1v1h-1zM719 760h2v1h-2zM723 760h2v1h-2zM733 760h1v1h-1zM1224 760h1v1h-1zM1263 760h2v1h-2zM1445 760h1v1h-1zM1465 760h1v1h-1zM1467 760h2v1h-2zM1530 760h2v1h-2zM1540 760h1v1h-1zM154 761h10v1h-10zM173 761h2v1h-2zM686 761h2v1h-2zM717 761h2v1h-2zM725 761h2v1h-2zM732 761h1v1h-1zM1224 761h1v1h-1zM1261 761h2v1h-2zM1446 761h2v1h-2zM1464 761h1v1h-1zM1469 761h2v1h-2zM1529 761h1v1h-1zM1540 761h1v1h-1zM164 762h4v1h-4zM171 762h2v1h-2zM688 762h2v1h-2zM715 762h2v1h-2zM727 762h2v1h-2zM731 762h1v1h-1zM1225 762h1v1h-1zM1240 762h3v1h-3zM1259 762h2v1h-2zM1448 762h1v1h-1zM1463 762h1v1h-1zM1471 762h2v1h-2zM1528 762h1v1h-1zM1541 762h1v1h-1zM168 763h3v1h-3zM690 763h1v1h-1zM714 763h1v1h-1zM729 763h2v1h-2zM1225 763h1v1h-1zM1236 763h4v1h-4zM1243 763h2v1h-2zM1257 763h2v1h-2zM1449 763h1v1h-1zM1462 763h1v1h-1zM1473 763h2v1h-2zM1527 763h1v1h-1zM1542 763h1v1h-1zM691 764h1v1h-1zM712 764h2v1h-2zM1226 764h10v1h-10zM1245 764h1v1h-1zM1255 764h2v1h-2zM1450 764h2v1h-2zM1461 764h1v1h-1zM1475 764h1v1h-1zM1505 764h2v1h-2zM1526 764h1v1h-1zM1543 764h1v1h-1zM692 765h1v1h-1zM711 765h1v1h-1zM1246 765h2v1h-2zM1253 765h2v1h-2zM1452 765h2v1h-2zM1460 765h1v1h-1zM1476 765h1v1h-1zM1503 765h2v1h-2zM1507 765h2v1h-2zM1526 765h1v1h-1zM1544 765h1v1h-1zM1630 765h21v1h-21zM693 766h1v1h-1zM710 766h1v1h-1zM1248 766h2v1h-2zM1251 766h2v1h-2zM1454 766h3v1h-3zM1459 766h1v1h-1zM1477 766h1v1h-1zM1501 766h2v1h-2zM1509 766h2v1h-2zM1525 766h1v1h-1zM1544 766h1v1h-1zM1626 766h4v1h-4zM1651 766h2v1h-2zM694 767h1v1h-1zM708 767h2v1h-2zM1250 767h1v1h-1zM1457 767h2v1h-2zM1478 767h2v1h-2zM1499 767h2v1h-2zM1511 767h2v1h-2zM1524 767h1v1h-1zM1545 767h1v1h-1zM1625 767h1v1h-1zM1653 767h2v1h-2zM695 768h1v1h-1zM707 768h1v1h-1zM1480 768h1v1h-1zM1497 768h2v1h-2zM1513 768h5v1h-5zM1523 768h1v1h-1zM1546 768h4v1h-4zM1569 768h2v1h-2zM1625 768h1v1h-1zM1655 768h2v1h-2zM696 769h1v1h-1zM704 769h3v1h-3zM1481 769h1v1h-1zM1495 769h2v1h-2zM1518 769h5v1h-5zM1550 769h6v1h-6zM1566 769h3v1h-3zM1571 769h1v1h-1zM1624 769h1v1h-1zM1657 769h3v1h-3zM697 770h1v1h-1zM700 770h4v1h-4zM1482 770h2v1h-2zM1493 770h2v1h-2zM1556 770h4v1h-4zM1564 770h2v1h-2zM1572 770h1v1h-1zM1623 770h1v1h-1zM1660 770h4v1h-4zM698 771h2v1h-2zM1484 771h4v1h-4zM1491 771h2v1h-2zM1560 771h4v1h-4zM1573 771h1v1h-1zM1622 771h1v1h-1zM1664 771h3v1h-3zM1488 772h3v1h-3zM1574 772h1v1h-1zM1622 772h1v1h-1zM1575 773h1v1h-1zM1621 773h1v1h-1zM1576 774h1v1h-1zM1620 774h1v1h-1zM1577 775h1v1h-1zM1619 775h1v1h-1zM1578 776h1v1h-1zM1593 776h2v1h-2zM1610 776h4v1h-4zM1619 776h1v1h-1zM1579 777h2v1h-2zM1591 777h2v1h-2zM1595 777h1v1h-1zM1608 777h2v1h-2zM1614 777h5v1h-5zM1581 778h2v1h-2zM1589 778h2v1h-2zM1596 778h2v1h-2zM1607 778h1v1h-1zM1583 779h2v1h-2zM1587 779h2v1h-2zM1598 779h1v1h-1zM1606 779h1v1h-1zM1585 780h2v1h-2zM1599 780h1v1h-1zM1604 780h2v1h-2zM1600 781h2v1h-2zM1603 781h1v1h-1zM1602 782h1v1h-1z" fill="#1E90FF"/></g><g shape-rendering="crispEdges" fill="#000000"><rect x="1" y="0" width="1" height="562"/><rect x="1" y="561" width="1687" height="1"/><rect x="1687" y="0" width="1" height="562"/><rect x="1" y="563" width="1687" height="1"/><rect x="1" y="688" width="1687" height="1"/><rect x="1" y="563" width="1" height="126"/><rect x="1687" y="563" width="1" height="126"/><rect x="1" y="690" width="1687" height="1"/><rect x="1" y="815" width="1687" height="1"/><rect x="1" y="690" width="1" height="126"/><rect x="1687" y="690" width="1" height="126"/><rect x="1688" y="30" width="2" height="1"/><rect x="1688" y="63" width="2" height="1"/><rect x="1688" y="96" width="2" height="1"/><rect x="1688" y="129" width="2" height="1"/><rect x="1688" y="162" width="2" height="1"/><rect x="1688" y="195" width="2" height="1"/><rect x="1688" y="228" width="2" height="1"/><rect x="1688" y="261" width="2" height="1"/><rect x="1688" y="294" width="2" height="1"/><rect x="1688" y="327" width="2" height="1"/><rect x="1688" y="360" width="2" height="1"/><rect x="1688" y="393" width="2" height="1"/><rect x="1688" y="426" width="2" height="1"/><rect x="1688" y="459" width="2" height="1"/><rect x="1688" y="492" width="2" height="1"/><rect x="1688" y="525" width="2" height="1"/><rect x="1688" y="558" width="2" height="1"/><rect x="1688" y="565" width="2" height="1"/><rect x="1688" y="625" width="2" height="1"/><rect x="1688" y="687" width="2" height="1"/><rect x="1688" y="692" width="2" height="1"/><rect x="1688" y="728" width="2" height="1"/><rect x="1688" y="778" width="2" height="1"/><rect x="1688" y="814" width="2" height="1"/><rect x="2" y="816" width="1" height="3"/><rect x="66" y="816" width="1" height="3"/><rect x="130" y="816" width="1" height="3"/><rect x="194" y="816" width="1" height="3"/><rect x="258" y="816" width="1" height="3"/><rect x="322" y="816" width="1" height="3"/><rect x="386" y="816" width="1" height="3"/><rect x="450" y="816" width="1" height="3"/><rect x="514" y="816" width="1" height="3"/><rect x="578" y="816" width="1" height="3"/><rect x="642" y="816" width="1" height="3"/><rect x="706" y="816" width="1" height="3"/><rect x="770" y="816" width="1" height="3"/><rect x="834" y="816" width="1" height="3"/><rect x="898" y="816" width="1" height="3"/><rect x="962" y="816" width="1" height="3"/><rect x="1026" y="816" width="1" height="3"/><rect x="1090" y="816" width="1" height="3"/><rect x="1154" y="816" width="1" height="3"/><rect x="1218" y="816" width="1" height="3"/><rect x="1282" y="816" width="1" height="3"/><rect x="1346" y="816" width="1" height="3"/><rect x="1410" y="816" width="1" height="3"/><rect x="1474" y="816" width="1" height="3"/><rect x="1538" y="816" width="1" height="3"/><rect x="1602" y="816" width="1" height="3"/><rect x="1666" y="816" width="1" height="3"/></g><g shape-rendering="crispEdges"><rect x="1689" y="138" width="33" height="11" fill="#FF0000"/><rect x="1689" y="221" width="33" height="11" fill="#FF0000"/><rect x="1689" y="273" width="33" height="11" fill="#FF0000"/><rect x="1689" y="356" width="33" height="11" fill="#32CD32"/><rect x="1689" y="438" width="33" height="11" fill="#4169E1"/><rect x="1689" y="481" width="33" height="11" fill="#4169E1"/><rect x="1689" y="378" width="33" height="11" fill="#000000"/></g><polygon points="5,6 12,6 8.5,10" fill="#000000"/></svg>
<div class="t" style="left:1693px;top:25.5px;color:#000;font-size:9px;letter-spacing:0px">5903.0</div><div class="t" style="left:1693px;top:58.5px;color:#000;font-size:9px;letter-spacing:0px">5821.0</div><div class="t" style="left:1693px;top:91.5px;color:#000;font-size:9px;letter-spacing:0px">5739.0</div><div class="t" style="left:1693px;top:124.5px;color:#000;font-size:9px;letter-spacing:0px">5657.0</div><div class="t" style="left:1693px;top:157.5px;color:#000;font-size:9px;letter-spacing:0px">5575.0</div><div class="t" style="left:1693px;top:190.5px;color:#000;font-size:9px;letter-spacing:0px">5493.0</div><div class="t" style="left:1693px;top:256.5px;color:#000;font-size:9px;letter-spacing:0px">5329.0</div><div class="t" style="left:1693px;top:289.5px;color:#000;font-size:9px;letter-spacing:0px">5247.0</div><div class="t" style="left:1693px;top:322.5px;color:#000;font-size:9px;letter-spacing:0px">5165.0</div><div class="t" style="left:1693px;top:388.5px;color:#000;font-size:9px;letter-spacing:0px">5003.0</div><div class="t" style="left:1693px;top:421.5px;color:#000;font-size:9px;letter-spacing:0px">4921.0</div><div class="t" style="left:1693px;top:454.5px;color:#000;font-size:9px;letter-spacing:0px">4839.0</div><div class="t" style="left:1693px;top:487.5px;color:#000;font-size:9px;letter-spacing:0px">4757.0</div><div class="t" style="left:1693px;top:520.5px;color:#000;font-size:9px;letter-spacing:0px">4675.0</div><div class="t" style="left:1693px;top:553.5px;color:#000;font-size:9px;letter-spacing:0px">4593.0</div><div class="t" style="left:1693px;top:138.5px;color:#fff;font-size:9px;letter-spacing:0px">5620.0</div><div class="t" style="left:1693px;top:221.5px;color:#fff;font-size:9px;letter-spacing:0px">5415.0</div><div class="t" style="left:1693px;top:273.5px;color:#fff;font-size:9px;letter-spacing:0px">5285.0</div><div class="t" style="left:1693px;top:356.5px;color:#fff;font-size:9px;letter-spacing:0px">5080.0</div><div class="t" style="left:1693px;top:438.5px;color:#fff;font-size:9px;letter-spacing:0px">4875.0</div><div class="t" style="left:1693px;top:481.5px;color:#fff;font-size:9px;letter-spacing:0px">4770.0</div><div class="t" style="left:1693px;top:378.5px;color:#fff;font-size:9px;letter-spacing:0px">5028.1</div><div class="t" style="left:1691px;top:565.5px;color:#000;font-size:9px;letter-spacing:0px">139.86</div><div class="t" style="left:1691px;top:620.5px;color:#000;font-size:9px;letter-spacing:0px">0.00</div><div class="t" style="left:1690.5px;top:676.5px;color:#000;font-size:9px;letter-spacing:0px">-143.82</div><div class="t" style="left:1691.5px;top:692.5px;color:#000;font-size:9px;letter-spacing:0px">100</div><div class="t" style="left:1692px;top:724.0px;color:#000;font-size:9px;letter-spacing:0px">70</div><div class="t" style="left:1692px;top:774.0px;color:#000;font-size:9px;letter-spacing:0px">30</div><div class="t" style="left:1692px;top:804.0px;color:#000;font-size:9px;letter-spacing:0px">0</div><div class="t" style="left:1.2px;top:819.5px;color:#000;font-size:9px;letter-spacing:0px">12 <span class="w">Oct</span> 2020</div><div class="t" style="left:65.2px;top:819.5px;color:#000;font-size:9px;letter-spacing:0px">16 <span class="w">Oct</span> 05:00</div><div class="t" style="left:129.2px;top:819.5px;color:#000;font-size:9px;letter-spacing:0px">22 <span class="w">Oct</span> 05:00</div><div class="t" style="left:193.2px;top:819.5px;color:#000;font-size:9px;letter-spacing:0px">28 <span class="w">Oct</span> 05:00</div><div class="t" style="left:257.2px;top:819.5px;color:#000;font-size:9px;letter-spacing:0px">3 <span class="w">Nov</span> 05:00</div><div class="t" style="left:321.2px;top:819.5px;color:#000;font-size:9px;letter-spacing:0px">9 <span class="w">Nov</span> 05:00</div><div class="t" style="left:385.2px;top:819.5px;color:#000;font-size:9px;letter-spacing:0px">13 <span class="w">Nov</span> 05:00</div><div class="t" style="left:449.2px;top:819.5px;color:#000;font-size:9px;letter-spacing:0px">19 <span class="w">Nov</span> 05:00</div><div class="t" style="left:513.2px;top:819.5px;color:#000;font-size:9px;letter-spacing:0px">25 <span class="w">Nov</span> 05:00</div><div class="t" style="left:577.2px;top:819.5px;color:#000;font-size:9px;letter-spacing:0px">1 <span class="w">Dec</span> 05:00</div><div class="t" style="left:641.2px;top:819.5px;color:#000;font-size:9px;letter-spacing:0px">7 <span class="w">Dec</span> 05:00</div><div class="t" style="left:705.2px;top:819.5px;color:#000;font-size:9px;letter-spacing:0px">11 <span class="w">Dec</span> 05:00</div><div class="t" style="left:769.2px;top:819.5px;color:#000;font-size:9px;letter-spacing:0px">17 <span class="w">Dec</span> 05:00</div><div class="t" style="left:833.2px;top:819.5px;color:#000;font-size:9px;letter-spacing:0px">23 <span class="w">Dec</span> 05:00</div><div class="t" style="left:897.2px;top:819.5px;color:#000;font-size:9px;letter-spacing:0px">29 <span class="w">Dec</span> 05:00</div><div class="t" style="left:961.2px;top:819.5px;color:#000;font-size:9px;letter-spacing:0px">5 <span class="w">Jan</span> 05:00</div><div class="t" style="left:1025.2px;top:819.5px;color:#000;font-size:9px;letter-spacing:0px">11 <span class="w">Jan</span> 05:00</div><div class="t" style="left:1089.2px;top:819.5px;color:#000;font-size:9px;letter-spacing:0px">15 <span class="w">Jan</span> 05:00</div><div class="t" style="left:1153.2px;top:819.5px;color:#000;font-size:9px;letter-spacing:0px">21 <span class="w">Jan</span> 05:00</div><div class="t" style="left:1217.2px;top:819.5px;color:#000;font-size:9px;letter-spacing:0px">27 <span class="w">Jan</span> 05:00</div><div class="t" style="left:1281.2px;top:819.5px;color:#000;font-size:9px;letter-spacing:0px">2 <span class="w">Feb</span> 05:00</div><div class="t" style="left:1345.2px;top:819.5px;color:#000;font-size:9px;letter-spacing:0px">8 <span class="w">Feb</span> 05:00</div><div class="t" style="left:1409.2px;top:819.5px;color:#000;font-size:9px;letter-spacing:0px">19 <span class="w">Feb</span> 05:00</div><div class="t" style="left:1473.2px;top:819.5px;color:#000;font-size:9px;letter-spacing:0px">25 <span class="w">Feb</span> 05:00</div><div class="t" style="left:1537.2px;top:819.5px;color:#000;font-size:9px;letter-spacing:0px">3 <span class="w">Mar</span> 05:00</div><div class="t" style="left:1601.2px;top:819.5px;color:#000;font-size:9px;letter-spacing:0px">9 <span class="w">Mar</span> 05:00</div><div class="t" style="left:1665.2px;top:819.5px;color:#000;font-size:9px;letter-spacing:0px">15 <span class="w">Mar</span> 05:00</div><div class="t" style="left:16.6px;top:1.5px;color:#000;font-size:9px;letter-spacing:0.75px">CHINA300-,H4</div><div class="t" style="left:87.4px;top:1.5px;color:#000;font-size:9px;letter-spacing:0px">5034.9</div><div class="t" style="left:118.5px;top:1.5px;color:#000;font-size:9px;letter-spacing:0px">5046.7</div><div class="t" style="left:149.5px;top:1.5px;color:#000;font-size:9px;letter-spacing:0px">4972.6</div><div class="t" style="left:180.5px;top:1.5px;color:#000;font-size:9px;letter-spacing:0px">5028.1</div><div class="t" style="left:5.8px;top:566.5px;color:#000;font-size:9px;letter-spacing:0.42px">MACD(12,26,9)</div><div class="t" style="left:74.4px;top:566.5px;color:#000;font-size:9px;letter-spacing:0px">-101.27</div><div class="t" style="left:108.4px;top:566.5px;color:#000;font-size:9px;letter-spacing:0px">-115.15</div><div class="t" style="left:5.6px;top:694.5px;color:#000;font-size:9px;letter-spacing:0.65px">RSI(14)</div><div class="t" style="left:40.6px;top:694.5px;color:#000;font-size:9px;letter-spacing:0px">36.4671</div><div class="cjk" style="left:954.5px;top:502px;">多空转折点<span class="dg">5080</span></div>
</body></html>
